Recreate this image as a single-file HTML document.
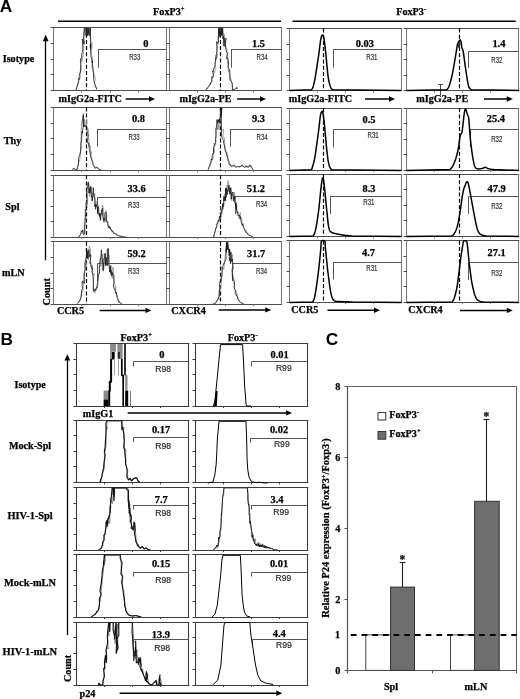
<!DOCTYPE html>
<html><head><meta charset="utf-8"><style>
html,body{margin:0;padding:0;background:#fff;}
svg{filter:grayscale(1);}
svg{display:block;}
</style></head><body>
<svg width="520" height="699" viewBox="0 0 520 699">
<rect width="520" height="699" fill="#fff"/>
<text x="-0.30" y="12.40" font-size="17.3" style="font-family:'Liberation Sans',sans-serif;font-weight:bold" text-anchor="start" fill="#000" >A</text>
<text x="0.60" y="344.90" font-size="17.3" style="font-family:'Liberation Sans',sans-serif;font-weight:bold" text-anchor="start" fill="#000" >B</text>
<text x="325.80" y="345.00" font-size="17.3" style="font-family:'Liberation Sans',sans-serif;font-weight:bold" text-anchor="start" fill="#000" >C</text>
<line x1="58.00" y1="21.20" x2="281.00" y2="21.20" stroke="#000" stroke-width="1.5" />
<line x1="292.50" y1="21.20" x2="515.80" y2="21.20" stroke="#000" stroke-width="1.5" />
<text x="153.1" y="14.8" font-size="10.2" style="font-family:'Liberation Serif',serif;font-weight:bold;stroke:#000;stroke-width:0.25px">FoxP3<tspan font-size="6.5" dy="-3.6">+</tspan></text>
<text x="396.2" y="14.8" font-size="10.2" style="font-family:'Liberation Serif',serif;font-weight:bold;stroke:#000;stroke-width:0.25px">FoxP3<tspan font-size="6.5" dy="-3.6">-</tspan></text>
<text x="2.70" y="61.80" font-size="10.2" style="font-family:'Liberation Serif',serif;font-weight:bold;stroke:#000;stroke-width:0.25px" text-anchor="start" fill="#000" >Isotype</text>
<text x="3.80" y="143.90" font-size="10.2" style="font-family:'Liberation Serif',serif;font-weight:bold;stroke:#000;stroke-width:0.25px" text-anchor="start" fill="#000" >Thy</text>
<text x="5.30" y="210.20" font-size="10.2" style="font-family:'Liberation Serif',serif;font-weight:bold;stroke:#000;stroke-width:0.25px" text-anchor="start" fill="#000" >Spl</text>
<text x="1.90" y="275.90" font-size="10.2" style="font-family:'Liberation Serif',serif;font-weight:bold;stroke:#000;stroke-width:0.25px" text-anchor="start" fill="#000" >mLN</text>
<line x1="45.50" y1="39.00" x2="45.50" y2="260.30" stroke="#000" stroke-width="1.3" />
<polygon points="45.7,34.8 42.8,41.2 48.6,41.2" fill="#000"/>
<text transform="translate(49.6,305.4) rotate(-90)" font-size="10.2" style="font-family:'Liberation Serif',serif;font-weight:bold;stroke:#000;stroke-width:0.25px">Count</text>
<line x1="50.60" y1="27.50" x2="167.00" y2="27.50" stroke="#4c4c4c" stroke-width="1.1" />
<line x1="50.60" y1="90.50" x2="167.00" y2="90.50" stroke="#4c4c4c" stroke-width="1.1" />
<line x1="53.50" y1="27.50" x2="53.50" y2="90.60" stroke="#7a7a7a" stroke-width="1.1" />
<line x1="166.50" y1="27.50" x2="166.50" y2="90.60" stroke="#7a7a7a" stroke-width="1.1" />
<line x1="50.60" y1="43.50" x2="53.60" y2="43.50" stroke="#4c4c4c" stroke-width="1" />
<line x1="81.50" y1="90.60" x2="81.50" y2="92.60" stroke="#7a7a7a" stroke-width="1" />
<line x1="50.60" y1="59.50" x2="53.60" y2="59.50" stroke="#4c4c4c" stroke-width="1" />
<line x1="110.50" y1="90.60" x2="110.50" y2="92.60" stroke="#7a7a7a" stroke-width="1" />
<line x1="50.60" y1="74.50" x2="53.60" y2="74.50" stroke="#4c4c4c" stroke-width="1" />
<line x1="138.50" y1="90.60" x2="138.50" y2="92.60" stroke="#7a7a7a" stroke-width="1" />
<line x1="166.50" y1="27.50" x2="282.10" y2="27.50" stroke="#4c4c4c" stroke-width="1.1" />
<line x1="166.50" y1="90.50" x2="282.10" y2="90.50" stroke="#4c4c4c" stroke-width="1.1" />
<line x1="169.50" y1="27.50" x2="169.50" y2="90.60" stroke="#7a7a7a" stroke-width="1.1" />
<line x1="281.50" y1="27.50" x2="281.50" y2="90.60" stroke="#7a7a7a" stroke-width="1.1" />
<line x1="166.50" y1="43.50" x2="169.50" y2="43.50" stroke="#4c4c4c" stroke-width="1" />
<line x1="197.50" y1="90.60" x2="197.50" y2="92.60" stroke="#7a7a7a" stroke-width="1" />
<line x1="166.50" y1="59.50" x2="169.50" y2="59.50" stroke="#4c4c4c" stroke-width="1" />
<line x1="225.50" y1="90.60" x2="225.50" y2="92.60" stroke="#7a7a7a" stroke-width="1" />
<line x1="166.50" y1="74.50" x2="169.50" y2="74.50" stroke="#4c4c4c" stroke-width="1" />
<line x1="253.50" y1="90.60" x2="253.50" y2="92.60" stroke="#7a7a7a" stroke-width="1" />
<line x1="286.60" y1="28.50" x2="402.10" y2="28.50" stroke="#4c4c4c" stroke-width="1.1" />
<line x1="286.60" y1="90.50" x2="402.10" y2="90.50" stroke="#4c4c4c" stroke-width="1.1" />
<line x1="289.50" y1="28.50" x2="289.50" y2="90.70" stroke="#7a7a7a" stroke-width="1.1" />
<line x1="401.50" y1="28.50" x2="401.50" y2="90.70" stroke="#7a7a7a" stroke-width="1.1" />
<line x1="286.60" y1="44.50" x2="289.60" y2="44.50" stroke="#4c4c4c" stroke-width="1" />
<line x1="317.50" y1="90.70" x2="317.50" y2="92.70" stroke="#7a7a7a" stroke-width="1" />
<line x1="286.60" y1="59.50" x2="289.60" y2="59.50" stroke="#4c4c4c" stroke-width="1" />
<line x1="345.50" y1="90.70" x2="345.50" y2="92.70" stroke="#7a7a7a" stroke-width="1" />
<line x1="286.60" y1="75.50" x2="289.60" y2="75.50" stroke="#4c4c4c" stroke-width="1" />
<line x1="373.50" y1="90.70" x2="373.50" y2="92.70" stroke="#7a7a7a" stroke-width="1" />
<line x1="403.60" y1="28.50" x2="519.30" y2="28.50" stroke="#4c4c4c" stroke-width="1.1" />
<line x1="403.60" y1="90.50" x2="519.30" y2="90.50" stroke="#4c4c4c" stroke-width="1.1" />
<line x1="406.50" y1="28.50" x2="406.50" y2="90.70" stroke="#7a7a7a" stroke-width="1.1" />
<line x1="518.50" y1="28.50" x2="518.50" y2="90.70" stroke="#7a7a7a" stroke-width="1.1" />
<line x1="403.60" y1="44.50" x2="406.60" y2="44.50" stroke="#4c4c4c" stroke-width="1" />
<line x1="434.50" y1="90.70" x2="434.50" y2="92.70" stroke="#7a7a7a" stroke-width="1" />
<line x1="403.60" y1="59.50" x2="406.60" y2="59.50" stroke="#4c4c4c" stroke-width="1" />
<line x1="462.50" y1="90.70" x2="462.50" y2="92.70" stroke="#7a7a7a" stroke-width="1" />
<line x1="403.60" y1="75.50" x2="406.60" y2="75.50" stroke="#4c4c4c" stroke-width="1" />
<line x1="490.50" y1="90.70" x2="490.50" y2="92.70" stroke="#7a7a7a" stroke-width="1" />
<line x1="50.60" y1="107.50" x2="167.00" y2="107.50" stroke="#4c4c4c" stroke-width="1.1" />
<line x1="50.60" y1="170.50" x2="167.00" y2="170.50" stroke="#4c4c4c" stroke-width="1.1" />
<line x1="53.50" y1="107.40" x2="53.50" y2="170.30" stroke="#7a7a7a" stroke-width="1.1" />
<line x1="166.50" y1="107.40" x2="166.50" y2="170.30" stroke="#7a7a7a" stroke-width="1.1" />
<line x1="50.60" y1="123.50" x2="53.60" y2="123.50" stroke="#4c4c4c" stroke-width="1" />
<line x1="81.50" y1="170.30" x2="81.50" y2="172.30" stroke="#7a7a7a" stroke-width="1" />
<line x1="50.60" y1="138.50" x2="53.60" y2="138.50" stroke="#4c4c4c" stroke-width="1" />
<line x1="110.50" y1="170.30" x2="110.50" y2="172.30" stroke="#7a7a7a" stroke-width="1" />
<line x1="50.60" y1="154.50" x2="53.60" y2="154.50" stroke="#4c4c4c" stroke-width="1" />
<line x1="138.50" y1="170.30" x2="138.50" y2="172.30" stroke="#7a7a7a" stroke-width="1" />
<line x1="166.50" y1="107.50" x2="282.10" y2="107.50" stroke="#4c4c4c" stroke-width="1.1" />
<line x1="166.50" y1="170.50" x2="282.10" y2="170.50" stroke="#4c4c4c" stroke-width="1.1" />
<line x1="169.50" y1="107.40" x2="169.50" y2="170.30" stroke="#7a7a7a" stroke-width="1.1" />
<line x1="281.50" y1="107.40" x2="281.50" y2="170.30" stroke="#7a7a7a" stroke-width="1.1" />
<line x1="166.50" y1="123.50" x2="169.50" y2="123.50" stroke="#4c4c4c" stroke-width="1" />
<line x1="197.50" y1="170.30" x2="197.50" y2="172.30" stroke="#7a7a7a" stroke-width="1" />
<line x1="166.50" y1="138.50" x2="169.50" y2="138.50" stroke="#4c4c4c" stroke-width="1" />
<line x1="225.50" y1="170.30" x2="225.50" y2="172.30" stroke="#7a7a7a" stroke-width="1" />
<line x1="166.50" y1="154.50" x2="169.50" y2="154.50" stroke="#4c4c4c" stroke-width="1" />
<line x1="253.50" y1="170.30" x2="253.50" y2="172.30" stroke="#7a7a7a" stroke-width="1" />
<line x1="286.60" y1="108.50" x2="402.10" y2="108.50" stroke="#4c4c4c" stroke-width="1.1" />
<line x1="286.60" y1="170.50" x2="402.10" y2="170.50" stroke="#4c4c4c" stroke-width="1.1" />
<line x1="289.50" y1="108.30" x2="289.50" y2="170.00" stroke="#7a7a7a" stroke-width="1.1" />
<line x1="401.50" y1="108.30" x2="401.50" y2="170.00" stroke="#7a7a7a" stroke-width="1.1" />
<line x1="286.60" y1="123.50" x2="289.60" y2="123.50" stroke="#4c4c4c" stroke-width="1" />
<line x1="317.50" y1="170.00" x2="317.50" y2="172.00" stroke="#7a7a7a" stroke-width="1" />
<line x1="286.60" y1="139.50" x2="289.60" y2="139.50" stroke="#4c4c4c" stroke-width="1" />
<line x1="345.50" y1="170.00" x2="345.50" y2="172.00" stroke="#7a7a7a" stroke-width="1" />
<line x1="286.60" y1="154.50" x2="289.60" y2="154.50" stroke="#4c4c4c" stroke-width="1" />
<line x1="373.50" y1="170.00" x2="373.50" y2="172.00" stroke="#7a7a7a" stroke-width="1" />
<line x1="403.60" y1="108.50" x2="519.30" y2="108.50" stroke="#4c4c4c" stroke-width="1.1" />
<line x1="403.60" y1="170.50" x2="519.30" y2="170.50" stroke="#4c4c4c" stroke-width="1.1" />
<line x1="406.50" y1="108.30" x2="406.50" y2="170.00" stroke="#7a7a7a" stroke-width="1.1" />
<line x1="518.50" y1="108.30" x2="518.50" y2="170.00" stroke="#7a7a7a" stroke-width="1.1" />
<line x1="403.60" y1="123.50" x2="406.60" y2="123.50" stroke="#4c4c4c" stroke-width="1" />
<line x1="434.50" y1="170.00" x2="434.50" y2="172.00" stroke="#7a7a7a" stroke-width="1" />
<line x1="403.60" y1="139.50" x2="406.60" y2="139.50" stroke="#4c4c4c" stroke-width="1" />
<line x1="462.50" y1="170.00" x2="462.50" y2="172.00" stroke="#7a7a7a" stroke-width="1" />
<line x1="403.60" y1="154.50" x2="406.60" y2="154.50" stroke="#4c4c4c" stroke-width="1" />
<line x1="490.50" y1="170.00" x2="490.50" y2="172.00" stroke="#7a7a7a" stroke-width="1" />
<line x1="50.60" y1="175.50" x2="167.00" y2="175.50" stroke="#4c4c4c" stroke-width="1.1" />
<line x1="50.60" y1="237.50" x2="167.00" y2="237.50" stroke="#4c4c4c" stroke-width="1.1" />
<line x1="53.50" y1="175.20" x2="53.50" y2="237.10" stroke="#7a7a7a" stroke-width="1.1" />
<line x1="166.50" y1="175.20" x2="166.50" y2="237.10" stroke="#7a7a7a" stroke-width="1.1" />
<line x1="50.60" y1="190.50" x2="53.60" y2="190.50" stroke="#4c4c4c" stroke-width="1" />
<line x1="81.50" y1="237.10" x2="81.50" y2="239.10" stroke="#7a7a7a" stroke-width="1" />
<line x1="50.60" y1="206.50" x2="53.60" y2="206.50" stroke="#4c4c4c" stroke-width="1" />
<line x1="110.50" y1="237.10" x2="110.50" y2="239.10" stroke="#7a7a7a" stroke-width="1" />
<line x1="50.60" y1="221.50" x2="53.60" y2="221.50" stroke="#4c4c4c" stroke-width="1" />
<line x1="138.50" y1="237.10" x2="138.50" y2="239.10" stroke="#7a7a7a" stroke-width="1" />
<line x1="166.50" y1="175.50" x2="282.10" y2="175.50" stroke="#4c4c4c" stroke-width="1.1" />
<line x1="166.50" y1="237.50" x2="282.10" y2="237.50" stroke="#4c4c4c" stroke-width="1.1" />
<line x1="169.50" y1="175.20" x2="169.50" y2="237.10" stroke="#7a7a7a" stroke-width="1.1" />
<line x1="281.50" y1="175.20" x2="281.50" y2="237.10" stroke="#7a7a7a" stroke-width="1.1" />
<line x1="166.50" y1="190.50" x2="169.50" y2="190.50" stroke="#4c4c4c" stroke-width="1" />
<line x1="197.50" y1="237.10" x2="197.50" y2="239.10" stroke="#7a7a7a" stroke-width="1" />
<line x1="166.50" y1="206.50" x2="169.50" y2="206.50" stroke="#4c4c4c" stroke-width="1" />
<line x1="225.50" y1="237.10" x2="225.50" y2="239.10" stroke="#7a7a7a" stroke-width="1" />
<line x1="166.50" y1="221.50" x2="169.50" y2="221.50" stroke="#4c4c4c" stroke-width="1" />
<line x1="253.50" y1="237.10" x2="253.50" y2="239.10" stroke="#7a7a7a" stroke-width="1" />
<line x1="286.60" y1="174.50" x2="402.10" y2="174.50" stroke="#4c4c4c" stroke-width="1.1" />
<line x1="286.60" y1="236.50" x2="402.10" y2="236.50" stroke="#4c4c4c" stroke-width="1.1" />
<line x1="289.50" y1="174.00" x2="289.50" y2="236.40" stroke="#7a7a7a" stroke-width="1.1" />
<line x1="401.50" y1="174.00" x2="401.50" y2="236.40" stroke="#7a7a7a" stroke-width="1.1" />
<line x1="286.60" y1="189.50" x2="289.60" y2="189.50" stroke="#4c4c4c" stroke-width="1" />
<line x1="317.50" y1="236.40" x2="317.50" y2="238.40" stroke="#7a7a7a" stroke-width="1" />
<line x1="286.60" y1="205.50" x2="289.60" y2="205.50" stroke="#4c4c4c" stroke-width="1" />
<line x1="345.50" y1="236.40" x2="345.50" y2="238.40" stroke="#7a7a7a" stroke-width="1" />
<line x1="286.60" y1="220.50" x2="289.60" y2="220.50" stroke="#4c4c4c" stroke-width="1" />
<line x1="373.50" y1="236.40" x2="373.50" y2="238.40" stroke="#7a7a7a" stroke-width="1" />
<line x1="403.60" y1="174.50" x2="519.30" y2="174.50" stroke="#4c4c4c" stroke-width="1.1" />
<line x1="403.60" y1="236.50" x2="519.30" y2="236.50" stroke="#4c4c4c" stroke-width="1.1" />
<line x1="406.50" y1="174.00" x2="406.50" y2="236.40" stroke="#7a7a7a" stroke-width="1.1" />
<line x1="518.50" y1="174.00" x2="518.50" y2="236.40" stroke="#7a7a7a" stroke-width="1.1" />
<line x1="403.60" y1="189.50" x2="406.60" y2="189.50" stroke="#4c4c4c" stroke-width="1" />
<line x1="434.50" y1="236.40" x2="434.50" y2="238.40" stroke="#7a7a7a" stroke-width="1" />
<line x1="403.60" y1="205.50" x2="406.60" y2="205.50" stroke="#4c4c4c" stroke-width="1" />
<line x1="462.50" y1="236.40" x2="462.50" y2="238.40" stroke="#7a7a7a" stroke-width="1" />
<line x1="403.60" y1="220.50" x2="406.60" y2="220.50" stroke="#4c4c4c" stroke-width="1" />
<line x1="490.50" y1="236.40" x2="490.50" y2="238.40" stroke="#7a7a7a" stroke-width="1" />
<line x1="50.60" y1="241.50" x2="167.00" y2="241.50" stroke="#4c4c4c" stroke-width="1.1" />
<line x1="50.60" y1="304.50" x2="167.00" y2="304.50" stroke="#4c4c4c" stroke-width="1.1" />
<line x1="53.50" y1="241.80" x2="53.50" y2="304.30" stroke="#7a7a7a" stroke-width="1.1" />
<line x1="166.50" y1="241.80" x2="166.50" y2="304.30" stroke="#7a7a7a" stroke-width="1.1" />
<line x1="50.60" y1="257.50" x2="53.60" y2="257.50" stroke="#4c4c4c" stroke-width="1" />
<line x1="81.50" y1="304.30" x2="81.50" y2="306.30" stroke="#7a7a7a" stroke-width="1" />
<line x1="50.60" y1="273.50" x2="53.60" y2="273.50" stroke="#4c4c4c" stroke-width="1" />
<line x1="110.50" y1="304.30" x2="110.50" y2="306.30" stroke="#7a7a7a" stroke-width="1" />
<line x1="50.60" y1="288.50" x2="53.60" y2="288.50" stroke="#4c4c4c" stroke-width="1" />
<line x1="138.50" y1="304.30" x2="138.50" y2="306.30" stroke="#7a7a7a" stroke-width="1" />
<line x1="166.50" y1="241.50" x2="282.10" y2="241.50" stroke="#4c4c4c" stroke-width="1.1" />
<line x1="166.50" y1="304.50" x2="282.10" y2="304.50" stroke="#4c4c4c" stroke-width="1.1" />
<line x1="169.50" y1="241.80" x2="169.50" y2="304.30" stroke="#7a7a7a" stroke-width="1.1" />
<line x1="281.50" y1="241.80" x2="281.50" y2="304.30" stroke="#7a7a7a" stroke-width="1.1" />
<line x1="166.50" y1="257.50" x2="169.50" y2="257.50" stroke="#4c4c4c" stroke-width="1" />
<line x1="197.50" y1="304.30" x2="197.50" y2="306.30" stroke="#7a7a7a" stroke-width="1" />
<line x1="166.50" y1="273.50" x2="169.50" y2="273.50" stroke="#4c4c4c" stroke-width="1" />
<line x1="225.50" y1="304.30" x2="225.50" y2="306.30" stroke="#7a7a7a" stroke-width="1" />
<line x1="166.50" y1="288.50" x2="169.50" y2="288.50" stroke="#4c4c4c" stroke-width="1" />
<line x1="253.50" y1="304.30" x2="253.50" y2="306.30" stroke="#7a7a7a" stroke-width="1" />
<line x1="286.60" y1="240.50" x2="402.10" y2="240.50" stroke="#4c4c4c" stroke-width="1.1" />
<line x1="286.60" y1="302.50" x2="402.10" y2="302.50" stroke="#4c4c4c" stroke-width="1.1" />
<line x1="289.50" y1="240.70" x2="289.50" y2="302.20" stroke="#7a7a7a" stroke-width="1.1" />
<line x1="401.50" y1="240.70" x2="401.50" y2="302.20" stroke="#7a7a7a" stroke-width="1.1" />
<line x1="286.60" y1="256.50" x2="289.60" y2="256.50" stroke="#4c4c4c" stroke-width="1" />
<line x1="317.50" y1="302.20" x2="317.50" y2="304.20" stroke="#7a7a7a" stroke-width="1" />
<line x1="286.60" y1="271.50" x2="289.60" y2="271.50" stroke="#4c4c4c" stroke-width="1" />
<line x1="345.50" y1="302.20" x2="345.50" y2="304.20" stroke="#7a7a7a" stroke-width="1" />
<line x1="286.60" y1="286.50" x2="289.60" y2="286.50" stroke="#4c4c4c" stroke-width="1" />
<line x1="373.50" y1="302.20" x2="373.50" y2="304.20" stroke="#7a7a7a" stroke-width="1" />
<line x1="403.60" y1="240.50" x2="519.30" y2="240.50" stroke="#4c4c4c" stroke-width="1.1" />
<line x1="403.60" y1="302.50" x2="519.30" y2="302.50" stroke="#4c4c4c" stroke-width="1.1" />
<line x1="406.50" y1="240.70" x2="406.50" y2="302.20" stroke="#7a7a7a" stroke-width="1.1" />
<line x1="518.50" y1="240.70" x2="518.50" y2="302.20" stroke="#7a7a7a" stroke-width="1.1" />
<line x1="403.60" y1="256.50" x2="406.60" y2="256.50" stroke="#4c4c4c" stroke-width="1" />
<line x1="434.50" y1="302.20" x2="434.50" y2="304.20" stroke="#7a7a7a" stroke-width="1" />
<line x1="403.60" y1="271.50" x2="406.60" y2="271.50" stroke="#4c4c4c" stroke-width="1" />
<line x1="462.50" y1="302.20" x2="462.50" y2="304.20" stroke="#7a7a7a" stroke-width="1" />
<line x1="403.60" y1="286.50" x2="406.60" y2="286.50" stroke="#4c4c4c" stroke-width="1" />
<line x1="490.50" y1="302.20" x2="490.50" y2="304.20" stroke="#7a7a7a" stroke-width="1" />
<text x="58.50" y="102.00" font-size="10.2" style="font-family:'Liberation Serif',serif;font-weight:bold;stroke:#000;stroke-width:0.25px" text-anchor="start" fill="#000" >mIgG2a-FITC</text>
<line x1="125.60" y1="99.00" x2="149.50" y2="99.00" stroke="#000" stroke-width="1.5" />
<polygon points="155.00,99.00 149.00,96.30 149.00,101.70" fill="#000"/>
<text x="179.40" y="102.00" font-size="10.2" style="font-family:'Liberation Serif',serif;font-weight:bold;stroke:#000;stroke-width:0.25px" text-anchor="start" fill="#000" >mIgG2a-PE</text>
<line x1="237.10" y1="99.00" x2="260.50" y2="99.00" stroke="#000" stroke-width="1.5" />
<polygon points="266.00,99.00 260.00,96.30 260.00,101.70" fill="#000"/>
<text x="288.80" y="102.30" font-size="10.2" style="font-family:'Liberation Serif',serif;font-weight:bold;stroke:#000;stroke-width:0.25px" text-anchor="start" fill="#000" >mIgG2a-FITC</text>
<line x1="365.00" y1="99.00" x2="389.50" y2="99.00" stroke="#000" stroke-width="1.5" />
<polygon points="395.00,99.00 389.00,96.30 389.00,101.70" fill="#000"/>
<text x="416.20" y="102.30" font-size="10.2" style="font-family:'Liberation Serif',serif;font-weight:bold;stroke:#000;stroke-width:0.25px" text-anchor="start" fill="#000" >mIgG2a-PE</text>
<line x1="484.00" y1="99.00" x2="507.30" y2="99.00" stroke="#000" stroke-width="1.5" />
<polygon points="512.80,99.00 506.80,96.30 506.80,101.70" fill="#000"/>
<text x="56.90" y="314.00" font-size="10.2" style="font-family:'Liberation Serif',serif;font-weight:bold;stroke:#000;stroke-width:0.25px" text-anchor="start" fill="#000" >CCR5</text>
<line x1="99.60" y1="310.40" x2="146.00" y2="310.40" stroke="#000" stroke-width="1.5" />
<polygon points="151.50,310.40 145.50,307.70 145.50,313.10" fill="#000"/>
<text x="171.25" y="313.50" font-size="10.2" style="font-family:'Liberation Serif',serif;font-weight:bold;stroke:#000;stroke-width:0.25px" text-anchor="start" fill="#000" >CXCR4</text>
<line x1="218.75" y1="309.90" x2="265.75" y2="309.90" stroke="#000" stroke-width="1.5" />
<polygon points="271.25,309.90 265.25,307.20 265.25,312.60" fill="#000"/>
<text x="291.25" y="313.20" font-size="10.2" style="font-family:'Liberation Serif',serif;font-weight:bold;stroke:#000;stroke-width:0.25px" text-anchor="start" fill="#000" >CCR5</text>
<line x1="327.50" y1="310.30" x2="374.50" y2="310.30" stroke="#000" stroke-width="1.5" />
<polygon points="380.00,310.30 374.00,307.60 374.00,313.00" fill="#000"/>
<text x="408.20" y="313.30" font-size="10.2" style="font-family:'Liberation Serif',serif;font-weight:bold;stroke:#000;stroke-width:0.25px" text-anchor="start" fill="#000" >CXCR4</text>
<line x1="460.00" y1="310.40" x2="507.30" y2="310.40" stroke="#000" stroke-width="1.5" />
<polygon points="512.80,310.40 506.80,307.70 506.80,313.10" fill="#000"/>
<line x1="98.10" y1="49.50" x2="166.50" y2="49.50" stroke="#555" stroke-width="1" />
<line x1="98.50" y1="49.00" x2="98.50" y2="67.70" stroke="#555" stroke-width="1" />
<line x1="231.70" y1="49.50" x2="281.60" y2="49.50" stroke="#555" stroke-width="1" />
<line x1="231.50" y1="49.00" x2="231.50" y2="67.70" stroke="#555" stroke-width="1" />
<line x1="333.50" y1="49.50" x2="401.60" y2="49.50" stroke="#555" stroke-width="1" />
<line x1="333.50" y1="49.20" x2="333.50" y2="67.70" stroke="#555" stroke-width="1" />
<line x1="468.90" y1="51.50" x2="518.80" y2="51.50" stroke="#555" stroke-width="1" />
<line x1="468.50" y1="51.20" x2="468.50" y2="67.70" stroke="#555" stroke-width="1" />
<line x1="97.80" y1="129.50" x2="166.50" y2="129.50" stroke="#555" stroke-width="1" />
<line x1="97.50" y1="129.00" x2="97.50" y2="146.70" stroke="#555" stroke-width="1" />
<line x1="230.50" y1="129.50" x2="281.60" y2="129.50" stroke="#555" stroke-width="1" />
<line x1="230.50" y1="129.00" x2="230.50" y2="146.70" stroke="#555" stroke-width="1" />
<line x1="333.50" y1="129.50" x2="401.60" y2="129.50" stroke="#555" stroke-width="1" />
<line x1="333.50" y1="129.40" x2="333.50" y2="147.40" stroke="#555" stroke-width="1" />
<line x1="470.40" y1="129.50" x2="518.80" y2="129.50" stroke="#555" stroke-width="1" />
<line x1="470.50" y1="129.80" x2="470.50" y2="146.70" stroke="#555" stroke-width="1" />
<line x1="97.40" y1="197.50" x2="166.50" y2="197.50" stroke="#555" stroke-width="1" />
<line x1="97.50" y1="197.00" x2="97.50" y2="214.00" stroke="#555" stroke-width="1" />
<line x1="235.00" y1="196.50" x2="281.60" y2="196.50" stroke="#555" stroke-width="1" />
<line x1="235.50" y1="196.30" x2="235.50" y2="214.00" stroke="#555" stroke-width="1" />
<line x1="330.50" y1="196.50" x2="401.60" y2="196.50" stroke="#555" stroke-width="1" />
<line x1="330.50" y1="196.20" x2="330.50" y2="214.00" stroke="#555" stroke-width="1" />
<line x1="468.50" y1="196.50" x2="518.80" y2="196.50" stroke="#555" stroke-width="1" />
<line x1="468.50" y1="196.20" x2="468.50" y2="214.00" stroke="#555" stroke-width="1" />
<line x1="97.40" y1="263.50" x2="166.50" y2="263.50" stroke="#555" stroke-width="1" />
<line x1="97.50" y1="263.50" x2="97.50" y2="281.00" stroke="#555" stroke-width="1" />
<line x1="232.80" y1="263.50" x2="281.60" y2="263.50" stroke="#555" stroke-width="1" />
<line x1="232.50" y1="263.00" x2="232.50" y2="281.00" stroke="#555" stroke-width="1" />
<line x1="333.50" y1="262.50" x2="401.60" y2="262.50" stroke="#555" stroke-width="1" />
<line x1="333.50" y1="262.20" x2="333.50" y2="279.50" stroke="#555" stroke-width="1" />
<line x1="468.50" y1="262.50" x2="518.80" y2="262.50" stroke="#555" stroke-width="1" />
<line x1="468.50" y1="262.90" x2="468.50" y2="280.00" stroke="#555" stroke-width="1" />
<text x="148.50" y="47.00" font-size="10.4" style="font-family:'Liberation Serif',serif;font-weight:bold;stroke:#000;stroke-width:0.25px" text-anchor="end" fill="#000" >0</text>
<text x="265.00" y="47.00" font-size="10.4" style="font-family:'Liberation Serif',serif;font-weight:bold;stroke:#000;stroke-width:0.25px" text-anchor="end" fill="#000" >1.5</text>
<text x="373.90" y="47.00" font-size="10.4" style="font-family:'Liberation Serif',serif;font-weight:bold;stroke:#000;stroke-width:0.25px" text-anchor="end" fill="#000" >0.03</text>
<text x="505.40" y="46.60" font-size="10.4" style="font-family:'Liberation Serif',serif;font-weight:bold;stroke:#000;stroke-width:0.25px" text-anchor="end" fill="#000" >1.4</text>
<text x="145.00" y="122.40" font-size="10.4" style="font-family:'Liberation Serif',serif;font-weight:bold;stroke:#000;stroke-width:0.25px" text-anchor="end" fill="#000" >0.8</text>
<text x="265.00" y="122.40" font-size="10.4" style="font-family:'Liberation Serif',serif;font-weight:bold;stroke:#000;stroke-width:0.25px" text-anchor="end" fill="#000" >9.3</text>
<text x="375.50" y="122.50" font-size="10.4" style="font-family:'Liberation Serif',serif;font-weight:bold;stroke:#000;stroke-width:0.25px" text-anchor="end" fill="#000" >0.5</text>
<text x="505.00" y="122.00" font-size="10.4" style="font-family:'Liberation Serif',serif;font-weight:bold;stroke:#000;stroke-width:0.25px" text-anchor="end" fill="#000" >25.4</text>
<text x="145.70" y="192.00" font-size="10.4" style="font-family:'Liberation Serif',serif;font-weight:bold;stroke:#000;stroke-width:0.25px" text-anchor="end" fill="#000" >33.6</text>
<text x="265.00" y="192.00" font-size="10.4" style="font-family:'Liberation Serif',serif;font-weight:bold;stroke:#000;stroke-width:0.25px" text-anchor="end" fill="#000" >51.2</text>
<text x="375.50" y="191.60" font-size="10.4" style="font-family:'Liberation Serif',serif;font-weight:bold;stroke:#000;stroke-width:0.25px" text-anchor="end" fill="#000" >8.3</text>
<text x="505.70" y="191.60" font-size="10.4" style="font-family:'Liberation Serif',serif;font-weight:bold;stroke:#000;stroke-width:0.25px" text-anchor="end" fill="#000" >47.9</text>
<text x="145.70" y="256.60" font-size="10.4" style="font-family:'Liberation Serif',serif;font-weight:bold;stroke:#000;stroke-width:0.25px" text-anchor="end" fill="#000" >59.2</text>
<text x="265.30" y="256.60" font-size="10.4" style="font-family:'Liberation Serif',serif;font-weight:bold;stroke:#000;stroke-width:0.25px" text-anchor="end" fill="#000" >31.7</text>
<text x="375.00" y="256.00" font-size="10.4" style="font-family:'Liberation Serif',serif;font-weight:bold;stroke:#000;stroke-width:0.25px" text-anchor="end" fill="#000" >4.7</text>
<text x="505.70" y="256.00" font-size="10.4" style="font-family:'Liberation Serif',serif;font-weight:bold;stroke:#000;stroke-width:0.25px" text-anchor="end" fill="#000" >27.1</text>
<text x="129.20" y="59.90" font-size="8.6" style="font-family:'Liberation Sans',sans-serif;stroke:#444;stroke-width:0.2px" text-anchor="start" fill="#2a2a2a"  textLength="11.20" lengthAdjust="spacingAndGlyphs">R33</text>
<text x="256.50" y="59.90" font-size="8.6" style="font-family:'Liberation Sans',sans-serif;stroke:#444;stroke-width:0.2px" text-anchor="start" fill="#2a2a2a"  textLength="11.20" lengthAdjust="spacingAndGlyphs">R34</text>
<text x="366.30" y="59.90" font-size="8.6" style="font-family:'Liberation Sans',sans-serif;stroke:#444;stroke-width:0.2px" text-anchor="start" fill="#2a2a2a"  textLength="11.20" lengthAdjust="spacingAndGlyphs">R31</text>
<text x="491.30" y="62.70" font-size="8.6" style="font-family:'Liberation Sans',sans-serif;stroke:#444;stroke-width:0.2px" text-anchor="start" fill="#2a2a2a"  textLength="11.20" lengthAdjust="spacingAndGlyphs">R32</text>
<text x="128.50" y="140.10" font-size="8.6" style="font-family:'Liberation Sans',sans-serif;stroke:#444;stroke-width:0.2px" text-anchor="start" fill="#2a2a2a"  textLength="11.20" lengthAdjust="spacingAndGlyphs">R33</text>
<text x="256.50" y="140.10" font-size="8.6" style="font-family:'Liberation Sans',sans-serif;stroke:#444;stroke-width:0.2px" text-anchor="start" fill="#2a2a2a"  textLength="11.20" lengthAdjust="spacingAndGlyphs">R34</text>
<text x="367.50" y="138.40" font-size="8.6" style="font-family:'Liberation Sans',sans-serif;stroke:#444;stroke-width:0.2px" text-anchor="start" fill="#2a2a2a"  textLength="11.20" lengthAdjust="spacingAndGlyphs">R31</text>
<text x="491.20" y="141.90" font-size="8.6" style="font-family:'Liberation Sans',sans-serif;stroke:#444;stroke-width:0.2px" text-anchor="start" fill="#2a2a2a"  textLength="11.20" lengthAdjust="spacingAndGlyphs">R32</text>
<text x="128.10" y="208.10" font-size="8.6" style="font-family:'Liberation Sans',sans-serif;stroke:#444;stroke-width:0.2px" text-anchor="start" fill="#2a2a2a"  textLength="11.20" lengthAdjust="spacingAndGlyphs">R33</text>
<text x="256.00" y="206.50" font-size="8.6" style="font-family:'Liberation Sans',sans-serif;stroke:#444;stroke-width:0.2px" text-anchor="start" fill="#2a2a2a"  textLength="11.20" lengthAdjust="spacingAndGlyphs">R34</text>
<text x="363.30" y="205.20" font-size="8.6" style="font-family:'Liberation Sans',sans-serif;stroke:#444;stroke-width:0.2px" text-anchor="start" fill="#2a2a2a"  textLength="11.20" lengthAdjust="spacingAndGlyphs">R31</text>
<text x="491.20" y="208.70" font-size="8.6" style="font-family:'Liberation Sans',sans-serif;stroke:#444;stroke-width:0.2px" text-anchor="start" fill="#2a2a2a"  textLength="11.20" lengthAdjust="spacingAndGlyphs">R32</text>
<text x="128.10" y="274.10" font-size="8.6" style="font-family:'Liberation Sans',sans-serif;stroke:#444;stroke-width:0.2px" text-anchor="start" fill="#2a2a2a"  textLength="11.20" lengthAdjust="spacingAndGlyphs">R33</text>
<text x="256.00" y="274.10" font-size="8.6" style="font-family:'Liberation Sans',sans-serif;stroke:#444;stroke-width:0.2px" text-anchor="start" fill="#2a2a2a"  textLength="11.20" lengthAdjust="spacingAndGlyphs">R34</text>
<text x="366.30" y="271.20" font-size="8.6" style="font-family:'Liberation Sans',sans-serif;stroke:#444;stroke-width:0.2px" text-anchor="start" fill="#2a2a2a"  textLength="11.20" lengthAdjust="spacingAndGlyphs">R31</text>
<text x="491.20" y="275.90" font-size="8.6" style="font-family:'Liberation Sans',sans-serif;stroke:#444;stroke-width:0.2px" text-anchor="start" fill="#2a2a2a"  textLength="11.20" lengthAdjust="spacingAndGlyphs">R32</text>
<line x1="86.50" y1="27.50" x2="86.50" y2="90.60" stroke="#000" stroke-width="1.2" stroke-dasharray="4,2.2"/>
<line x1="220.50" y1="27.50" x2="220.50" y2="90.60" stroke="#000" stroke-width="1.2" stroke-dasharray="4,2.2"/>
<line x1="323.50" y1="28.50" x2="323.50" y2="90.70" stroke="#000" stroke-width="1.2" stroke-dasharray="4,2.2"/>
<line x1="459.50" y1="28.50" x2="459.50" y2="90.70" stroke="#000" stroke-width="1.2" stroke-dasharray="4,2.2"/>
<line x1="86.50" y1="107.40" x2="86.50" y2="170.30" stroke="#000" stroke-width="1.2" stroke-dasharray="4,2.2"/>
<line x1="220.50" y1="107.40" x2="220.50" y2="170.30" stroke="#000" stroke-width="1.2" stroke-dasharray="4,2.2"/>
<line x1="323.50" y1="108.30" x2="323.50" y2="170.00" stroke="#000" stroke-width="1.2" stroke-dasharray="4,2.2"/>
<line x1="459.50" y1="108.30" x2="459.50" y2="170.00" stroke="#000" stroke-width="1.2" stroke-dasharray="4,2.2"/>
<line x1="86.50" y1="175.20" x2="86.50" y2="237.10" stroke="#000" stroke-width="1.2" stroke-dasharray="4,2.2"/>
<line x1="220.50" y1="175.20" x2="220.50" y2="237.10" stroke="#000" stroke-width="1.2" stroke-dasharray="4,2.2"/>
<line x1="323.50" y1="174.00" x2="323.50" y2="236.40" stroke="#000" stroke-width="1.2" stroke-dasharray="4,2.2"/>
<line x1="459.50" y1="174.00" x2="459.50" y2="236.40" stroke="#000" stroke-width="1.2" stroke-dasharray="4,2.2"/>
<line x1="86.50" y1="241.80" x2="86.50" y2="304.30" stroke="#000" stroke-width="1.2" stroke-dasharray="4,2.2"/>
<line x1="220.50" y1="241.80" x2="220.50" y2="304.30" stroke="#000" stroke-width="1.2" stroke-dasharray="4,2.2"/>
<line x1="323.50" y1="240.70" x2="323.50" y2="302.20" stroke="#000" stroke-width="1.2" stroke-dasharray="4,2.2"/>
<line x1="459.50" y1="240.70" x2="459.50" y2="302.20" stroke="#000" stroke-width="1.2" stroke-dasharray="4,2.2"/>
<line x1="440.50" y1="84.50" x2="440.50" y2="95.20" stroke="#444" stroke-width="1" />
<line x1="438.30" y1="84.50" x2="443.00" y2="84.50" stroke="#444" stroke-width="1" />
<polyline points="76.07,90.50 76.57,89.11 76.59,87.92 77.71,85.16 77.61,83.72 78.27,84.29 78.73,82.35 78.89,80.01 79.98,78.41 80.43,76.15 79.77,74.09 81.16,69.60 80.61,58.15 81.85,61.79 83.03,56.09 83.56,51.49 83.69,43.04 84.43,41.14 83.43,43.60 84.09,28.10 85.03,35.50 85.50,34.71 85.95,31.77 86.40,28.10 86.85,33.67 87.30,35.50 87.75,35.50 88.20,35.50 88.65,35.50 89.10,35.50 89.55,35.50 90.00,35.50 89.66,28.10 91.78,48.57 91.89,42.71 91.17,54.69 92.73,57.86 91.92,68.25 92.50,67.96 93.30,71.42 94.92,76.34 95.40,79.54 94.32,82.55 95.00,84.96 95.77,85.76 96.01,87.99 97.00,89.25" fill="none" stroke="#8a8a8a" stroke-width="0.8" stroke-linejoin="round" />
<polyline points="75.86,90.50 76.06,89.33 76.62,87.70 77.14,86.19 77.61,84.36 77.96,83.65 78.59,80.65 78.67,78.25 79.32,79.45 79.09,76.00 80.34,72.06 80.86,63.10 80.31,61.41 81.49,57.47 81.73,54.20 82.88,49.82 82.26,38.87 84.12,44.20 83.72,34.25 83.93,33.15 84.63,28.10 85.15,28.18 85.60,28.10 86.05,35.50 86.50,31.96 86.95,28.10 87.40,35.50 87.85,28.10 88.30,34.39 88.75,28.10 89.20,35.50 89.65,35.50 90.37,28.10 90.46,48.57 90.32,44.26 90.89,55.76 92.51,62.92 91.97,61.05 93.00,68.78 92.97,71.23 93.33,71.40 93.74,80.37 94.48,82.66 94.97,84.47 95.21,86.79 96.32,87.41 96.73,89.56" fill="none" stroke="#111" stroke-width="0.75" stroke-linejoin="round" />
<polyline points="206.00,89.79 206.41,89.27 206.92,88.57 207.48,88.58 207.77,88.02 208.24,87.30 208.61,86.30 209.38,85.50 209.79,85.81 209.96,85.01 210.61,82.94 211.16,83.33 211.22,83.08 212.04,80.99 212.02,78.70 212.38,76.62 213.65,77.61 213.42,73.16 214.27,73.09 215.12,70.18 214.94,64.10 215.41,62.86 215.69,55.05 215.73,61.02 217.05,48.34 217.36,47.21 217.47,47.05 217.65,47.79 218.11,35.99 218.79,38.10 219.78,29.16 220.02,28.10 220.45,35.50 220.90,28.10 221.35,35.50 221.80,28.10 222.25,28.10 222.86,28.10 223.90,38.74 224.28,42.38 223.83,33.74 224.64,46.45 224.98,40.51 225.56,43.85 225.29,39.81 225.65,47.95 227.36,49.40 226.46,51.24 227.09,51.62 227.85,63.65 227.82,61.48 228.86,71.97 228.66,69.62 229.30,73.78 229.93,79.42 230.79,78.74 231.54,80.93 231.71,81.51 232.04,84.27 232.57,87.50 232.97,89.79 233.50,89.78 233.96,89.79 234.40,89.80 234.80,89.30 235.24,88.95 235.82,88.54 236.11,88.08 236.66,88.33 237.07,88.10 237.64,89.13" fill="none" stroke="#8a8a8a" stroke-width="0.8" stroke-linejoin="round" />
<polyline points="205.73,89.83 206.04,89.29 206.70,88.66 207.17,88.47 207.54,87.62 207.99,87.48 208.41,87.02 208.93,86.11 209.49,84.70 209.56,85.04 210.41,84.34 210.45,82.89 210.89,82.69 211.69,81.84 211.66,76.89 212.52,77.13 213.36,75.82 212.66,70.99 212.97,72.05 213.67,68.89 215.06,66.17 215.21,64.67 215.20,62.61 215.80,57.97 216.93,57.82 216.99,49.81 216.56,41.61 217.83,43.72 218.49,42.26 218.56,28.25 219.22,36.62 219.75,28.10 220.10,35.50 220.55,31.44 221.00,35.50 221.45,28.10 221.90,35.50 222.45,28.10 222.82,38.74 223.78,36.06 223.25,43.82 223.99,46.45 224.63,38.50 225.20,39.42 226.17,38.12 225.32,43.99 226.19,50.62 227.46,53.69 226.46,58.63 227.83,57.83 228.59,63.24 227.89,66.96 229.73,70.05 230.03,75.47 230.15,80.17 230.54,80.94 231.14,81.17 231.54,82.47 232.23,83.03 232.42,87.11 232.39,89.81 233.15,89.83 233.59,89.82 234.01,89.74 234.44,89.46 234.93,89.16 235.37,88.70 235.77,88.37 236.38,87.87 236.79,87.32 237.09,88.88" fill="none" stroke="#111" stroke-width="0.75" stroke-linejoin="round" />
<polyline points="72.37,169.80 72.89,169.47 73.34,169.12 73.69,168.44 74.15,168.57 74.50,168.75 74.97,169.29 75.51,169.78 75.94,169.70 76.41,169.64 76.84,169.61 77.06,169.56 77.27,167.28 78.73,163.38 78.25,160.85 79.61,161.36 80.24,155.56 80.32,154.03 81.24,147.54 81.74,147.68 80.99,143.39 81.20,131.47 81.47,123.10 82.89,118.06 83.23,113.30 83.48,117.47 84.04,126.95 84.50,119.51 84.89,126.70 85.27,127.15 86.08,128.50 86.64,118.85 86.88,125.77 86.38,125.80 88.47,130.18 88.55,134.20 89.28,146.47 88.78,142.67 89.81,147.31 90.19,145.81 90.88,153.58 91.59,151.73 91.03,156.01 92.05,160.21 92.44,160.42 92.47,162.41 92.85,163.06 93.31,163.75 94.17,165.84 94.20,165.85 94.87,167.71 95.25,167.95 95.77,168.00 96.19,167.68 96.70,167.08 97.10,166.81 97.49,167.75 98.13,168.12 98.53,168.54 98.88,168.86 99.40,169.48 99.80,169.56 100.26,169.68 100.70,169.73 101.16,169.77" fill="none" stroke="#8a8a8a" stroke-width="0.8" stroke-linejoin="round" />
<polyline points="71.98,169.80 72.38,169.40 73.00,169.00 73.38,168.81 73.80,168.26 74.19,168.35 74.82,169.33 75.18,169.78 75.61,169.72 76.06,169.66 76.51,169.58 76.94,169.50 77.65,167.34 78.48,164.05 78.41,162.08 78.81,157.41 79.45,155.45 80.22,153.32 80.64,150.60 80.81,144.21 81.59,140.10 82.07,131.24 82.24,133.13 83.17,126.70 82.81,119.27 83.47,114.75 83.69,126.95 84.18,125.22 84.56,125.40 85.07,125.94 85.45,125.41 86.27,126.03 86.77,129.26 86.24,125.80 87.57,133.61 88.07,134.84 87.45,142.11 88.24,143.68 88.62,143.46 89.18,147.64 89.32,149.17 90.24,154.24 91.02,158.25 91.69,158.74 91.74,159.46 92.19,161.62 92.91,162.66 92.90,164.37 93.42,165.59 93.98,166.34 94.71,167.21 94.93,168.18 95.41,168.09 95.81,167.60 96.31,167.54 96.76,167.63 97.18,167.46 97.51,168.15 98.12,168.28 98.45,169.01 99.06,169.53 99.45,169.57 99.89,169.63 100.35,169.72 100.81,169.78" fill="none" stroke="#111" stroke-width="0.75" stroke-linejoin="round" />
<polyline points="208.44,169.80 208.68,168.78 209.34,167.36 209.84,166.73 210.32,165.55 210.82,163.97 210.98,163.61 211.65,161.57 211.99,158.66 212.21,159.86 213.04,158.53 213.11,156.83 214.11,149.46 214.12,152.66 214.10,143.12 214.72,144.83 215.71,145.36 216.28,129.10 217.23,122.50 216.90,130.00 217.35,127.80 217.90,130.00 218.19,119.80 218.61,128.53 218.91,129.11 219.65,129.69 220.34,112.74 219.95,109.29 220.73,111.44 221.54,108.00 220.97,115.80 221.43,131.28 223.48,128.99 222.85,137.56 223.46,137.66 224.77,137.87 224.48,139.63 224.92,148.11 225.21,151.64 226.34,153.30 226.79,152.60 227.17,153.03 227.27,157.26 227.93,157.45 227.74,159.32 228.42,162.21 229.23,162.56 229.25,162.89 229.99,163.74 230.34,165.08 230.90,165.46 231.29,165.34 231.76,166.57 232.20,165.83 232.63,166.07 233.08,165.70 233.53,166.21 234.03,165.76 234.44,166.18 234.86,166.00 235.35,166.10 235.90,167.05 236.21,166.85 236.67,166.96 237.18,166.22 237.62,166.08 238.08,166.19 238.49,166.83 239.00,166.11 239.39,166.88 239.89,167.28 240.30,167.15 240.72,166.31 241.23,165.88 241.57,166.14 242.05,165.77 242.56,164.79 243.09,165.86 243.50,166.53 243.97,166.29 244.36,166.73 244.84,167.46 245.24,167.26 245.73,166.81 246.17,165.82 246.60,166.95 247.04,166.95 247.52,166.50 247.97,166.48 248.38,167.67 248.76,167.28 249.25,166.82 249.73,166.64 250.19,166.22 250.72,165.03 251.11,166.56 251.44,166.45 251.84,167.51 252.55,168.60 252.98,169.18 253.26,169.80" fill="none" stroke="#8a8a8a" stroke-width="0.8" stroke-linejoin="round" />
<polyline points="207.90,169.80 208.43,168.79 208.67,167.74 209.36,166.31 209.82,165.09 210.09,163.79 210.76,162.08 210.93,161.01 211.65,158.89 211.98,159.73 212.32,155.30 213.04,153.15 213.48,153.73 213.59,147.89 214.19,145.75 215.65,142.04 215.49,139.70 215.91,135.55 215.87,128.77 216.55,126.78 217.00,119.57 217.36,122.74 218.00,119.80 218.44,120.70 218.72,121.60 219.33,118.69 219.21,123.09 220.91,113.96 220.58,108.00 221.19,115.07 221.79,108.00 221.25,120.30 221.59,136.95 223.30,139.89 223.69,140.46 223.46,143.07 223.92,143.50 224.86,148.03 224.83,148.81 225.27,149.46 226.28,152.72 226.68,155.73 227.21,156.11 227.46,155.81 227.67,158.03 228.60,160.16 228.97,161.39 229.12,164.50 229.41,165.04 229.92,164.75 230.44,164.89 230.90,166.12 231.37,166.02 231.85,165.69 232.33,165.67 232.76,165.69 233.21,165.70 233.64,165.38 234.13,164.82 234.54,165.37 235.02,166.54 235.52,167.07 235.87,167.06 236.35,167.06 236.80,167.11 237.29,166.75 237.72,166.30 238.14,166.71 238.64,166.92 239.03,167.04 239.46,166.68 239.96,167.01 240.31,166.63 240.76,166.12 241.36,166.06 241.70,166.06 242.17,165.26 242.73,166.37 243.20,166.31 243.61,166.73 243.99,167.13 244.48,167.37 244.94,166.80 245.38,166.65 245.78,165.80 246.26,165.88 246.66,166.75 247.11,166.74 247.62,167.12 248.09,166.74 248.42,166.83 248.87,166.07 249.49,166.10 249.84,164.93 250.38,165.84 250.74,166.57 251.24,166.60 251.76,167.56 252.19,168.30 252.60,169.14 252.95,169.80" fill="none" stroke="#111" stroke-width="0.75" stroke-linejoin="round" />
<polyline points="78.60,237.00 78.99,236.55 79.51,236.03 80.00,235.23 80.42,234.50 80.69,233.37 81.52,232.82 81.65,231.17 82.49,231.32 82.69,230.24 82.80,232.57 83.40,233.77 83.97,234.59 85.07,234.17 85.10,226.40 85.17,217.19 85.06,212.27 85.77,202.50 86.62,205.19 87.35,194.48 87.29,191.06 88.30,193.20 88.56,183.10 89.22,189.91 89.31,194.99 89.66,196.65 90.41,191.56 90.80,186.55 91.30,186.10 91.77,198.55 92.04,201.00 92.62,199.44 92.97,196.25 93.72,192.80 94.25,196.37 94.71,193.20 95.29,202.79 95.08,206.91 95.94,202.72 96.16,201.25 96.22,204.53 97.30,205.75 97.54,207.41 98.09,209.34 98.43,205.57 99.25,212.47 99.68,216.76 99.72,213.30 100.42,215.81 100.68,220.87 101.02,213.86 101.59,212.84 101.69,214.05 102.42,204.90 103.07,206.44 103.74,222.69 103.90,220.29 104.18,222.20 105.02,222.22 105.49,220.26 105.57,214.63 106.11,210.57 105.96,211.56 106.39,217.60 106.81,222.44 107.60,222.52 108.27,225.00 108.90,225.17 109.17,228.02 109.67,227.04 110.05,227.91 110.75,230.13 111.04,229.47 111.37,229.01 111.87,230.42 112.31,232.22 112.95,230.82 113.22,232.34 113.64,232.78 114.29,233.17 114.68,233.97 115.09,233.27 115.58,233.37 116.03,234.08 116.41,234.07 116.98,234.91 117.40,235.23 117.84,235.47 118.25,235.36 118.67,235.60 119.14,235.53 119.61,235.78 120.05,236.21 120.53,236.29 120.94,236.38 121.38,236.23 121.83,236.34 122.32,236.56 122.75,236.67 123.21,236.69 123.66,236.66 124.11,236.84 124.55,236.87 125.01,236.89 125.46,236.96 125.90,237.05" fill="none" stroke="#8a8a8a" stroke-width="0.8" stroke-linejoin="round" />
<polyline points="78.36,237.00 78.67,236.54 79.11,235.87 79.74,235.70 80.24,234.64 80.63,234.37 81.03,232.69 81.19,231.28 81.98,231.82 82.41,229.96 83.09,231.23 82.98,233.53 83.66,234.71 84.31,234.12 84.45,226.78 85.79,213.13 85.42,210.17 86.68,207.87 87.15,201.17 86.91,196.94 86.43,191.56 87.43,186.86 88.26,181.92 88.63,183.63 89.14,193.15 89.56,188.54 90.06,193.14 90.46,186.55 90.83,187.88 91.36,196.85 91.95,196.02 92.24,200.87 92.71,195.69 93.25,187.61 93.66,195.54 94.72,197.98 94.84,202.29 94.71,206.61 95.89,204.38 95.44,209.24 96.23,204.56 96.56,206.53 97.20,207.45 97.75,212.54 98.18,206.86 98.23,212.84 99.42,216.14 99.86,213.00 99.89,216.02 100.37,219.87 100.77,214.07 101.11,215.03 101.42,210.44 101.69,211.31 102.49,208.06 102.75,216.30 103.51,220.58 104.08,218.51 104.86,220.61 104.62,214.29 105.51,212.07 105.73,212.29 106.76,214.62 106.22,221.21 107.70,221.59 107.72,225.12 107.75,225.19 108.43,227.58 109.00,226.10 109.42,228.23 109.89,227.10 110.36,227.68 110.65,229.34 111.29,230.21 111.48,230.27 111.98,231.40 112.42,231.12 112.88,231.51 113.36,232.37 113.81,233.39 114.26,233.35 114.70,233.39 115.15,233.51 115.66,234.22 116.10,233.94 116.48,234.90 116.99,235.09 117.51,235.19 117.90,235.46 118.39,235.75 118.82,235.70 119.26,235.96 119.69,235.95 120.13,235.95 120.61,236.08 121.03,236.24 121.52,236.32 121.96,236.59 122.39,236.55 122.85,236.62 123.30,236.67 123.77,236.76 124.20,236.88 124.67,236.89 125.10,236.96 125.55,237.03" fill="none" stroke="#111" stroke-width="0.75" stroke-linejoin="round" />
<polyline points="214.09,237.00 214.50,234.73 214.48,232.39 214.94,232.34 215.62,230.14 216.10,228.42 216.75,226.24 216.84,224.52 217.31,222.86 218.15,223.60 218.08,222.27 219.18,219.94 219.34,216.94 219.83,217.61 220.32,215.74 220.76,215.24 221.14,217.15 221.01,207.18 221.94,214.17 222.82,203.07 223.03,206.48 223.13,209.22 224.05,200.44 224.42,195.55 224.82,193.80 225.50,201.04 225.55,201.20 225.69,188.99 226.46,193.27 227.20,185.16 227.50,190.07 227.61,182.85 228.21,180.64 228.67,182.75 229.33,186.06 229.43,194.24 229.86,188.51 230.83,194.76 231.16,187.69 231.02,191.09 231.73,200.60 232.27,192.14 232.74,193.34 233.20,196.85 233.65,199.18 233.98,192.00 234.57,193.00 235.35,198.66 235.68,202.94 235.42,210.75 236.05,202.00 236.84,206.76 237.17,212.01 237.42,215.43 237.99,214.89 238.34,216.20 239.20,217.97 239.55,219.06 240.22,212.60 240.11,216.10 240.85,218.90 241.03,219.34 241.81,218.49 241.92,222.20 242.81,223.48 243.08,226.15 243.46,225.87 243.81,226.53 244.24,228.59 244.99,230.31 245.14,230.76 245.77,230.97 246.42,231.31 246.70,233.12 247.08,233.41 247.61,233.10 248.08,234.23 248.53,233.79 249.00,235.14 249.48,235.48 249.83,235.18 250.35,235.60 250.80,235.72 251.20,236.14 251.70,236.25 252.08,236.48 252.52,236.68 253.04,236.83" fill="none" stroke="#8a8a8a" stroke-width="0.8" stroke-linejoin="round" />
<polyline points="213.40,237.00 214.06,234.87 214.59,233.44 215.05,231.84 215.37,230.34 215.71,228.08 216.22,227.28 216.51,227.33 217.24,223.40 217.50,222.94 218.23,221.03 218.29,220.13 218.90,221.41 219.66,216.94 219.68,216.20 220.55,218.16 220.42,214.67 221.26,213.25 221.46,211.47 222.33,209.14 222.62,203.80 223.34,206.41 223.63,206.60 223.94,196.26 223.94,201.04 225.08,196.63 225.58,200.72 225.74,188.40 226.22,197.22 226.20,187.96 227.27,194.65 227.35,190.13 227.98,191.56 228.38,190.33 228.69,184.96 229.16,186.61 229.48,190.08 230.04,194.17 230.41,187.66 231.00,192.44 231.18,199.14 231.86,193.42 232.42,193.03 232.85,192.17 233.30,197.80 233.77,201.20 234.50,195.92 234.63,202.93 235.59,203.01 236.02,209.57 235.85,203.07 236.25,206.81 236.65,211.08 237.40,213.13 237.75,211.81 238.29,215.40 238.94,216.02 239.42,215.47 239.52,215.08 240.07,218.52 240.64,216.60 240.66,219.12 241.40,222.49 241.88,224.45 242.15,225.45 242.77,223.81 243.42,227.08 243.41,227.90 243.85,228.36 244.75,229.19 245.09,230.03 245.29,231.43 245.75,232.35 246.37,232.14 246.90,232.54 247.28,233.35 247.61,234.33 248.05,234.72 248.63,234.79 249.03,235.41 249.52,235.57 249.91,235.54 250.38,235.66 250.84,235.93 251.29,236.27 251.70,236.43 252.22,236.58 252.63,236.85" fill="none" stroke="#111" stroke-width="0.75" stroke-linejoin="round" />
<polyline points="77.93,303.52 78.51,302.77 78.85,301.98 79.16,302.03 79.79,301.13 80.13,299.81 80.60,299.27 80.71,297.40 81.11,293.64 82.51,292.56 82.85,290.71 83.32,286.23 83.00,280.58 84.18,282.41 83.57,276.72 84.24,271.74 85.71,268.70 86.30,262.71 85.25,266.90 86.49,255.13 86.88,249.00 87.36,258.25 87.42,257.77 88.36,259.44 88.34,250.56 89.24,248.03 89.21,245.93 90.21,250.46 90.37,248.99 90.27,261.22 90.86,266.56 92.52,269.44 92.43,265.00 92.25,274.63 94.14,273.55 93.02,288.35 94.96,292.71 94.62,290.02 95.02,288.67 95.53,291.57 95.75,291.38 96.61,287.94 96.82,288.19 97.73,285.65 97.23,284.96 97.94,284.94 98.13,278.05 98.78,273.85 99.78,265.40 100.50,261.80 100.89,258.37 100.90,266.52 100.99,262.73 101.80,260.82 102.97,253.92 102.47,260.75 103.02,271.33 103.48,268.97 103.78,269.50 105.03,256.25 105.33,254.07 105.44,263.35 105.16,255.50 106.25,259.60 107.05,265.11 106.72,258.97 107.00,259.50 108.20,247.90 108.31,254.65 109.37,255.20 109.24,267.78 109.53,270.75 110.66,270.78 110.79,275.05 110.74,266.50 111.33,274.19 112.02,277.44 112.35,278.57 112.89,267.10 113.61,272.15 113.36,278.75 115.20,286.26 115.20,288.09 115.69,286.49 115.78,292.91 116.23,292.39 116.35,295.35 117.13,295.40 117.77,295.90 117.60,299.09 118.42,300.67 118.95,301.01 119.38,301.25 119.93,302.20 120.33,302.81 120.72,303.24 121.11,303.42 121.61,303.53 122.04,303.70" fill="none" stroke="#8a8a8a" stroke-width="0.8" stroke-linejoin="round" />
<polyline points="77.55,303.48 77.95,302.92 78.45,302.06 78.96,301.62 79.49,300.61 80.02,300.22 80.74,297.98 81.29,296.83 81.57,295.92 81.47,290.93 82.51,288.80 82.08,285.12 82.36,281.08 84.25,283.60 84.30,276.08 84.39,273.81 85.04,269.77 84.81,263.61 85.16,261.39 86.93,255.82 86.24,249.00 87.00,257.75 87.90,251.24 87.91,258.75 88.21,250.13 89.17,250.51 89.60,256.93 89.86,254.83 90.96,255.07 89.92,263.47 90.64,262.41 91.54,268.43 92.49,268.15 91.99,271.79 92.83,273.80 93.47,284.68 93.24,291.25 94.22,290.79 94.71,289.54 95.22,289.09 95.43,290.26 95.96,289.25 96.57,287.09 97.29,287.55 97.09,285.50 97.60,282.19 98.39,274.47 99.41,273.79 99.80,268.30 98.95,266.92 99.76,266.25 99.94,261.24 101.60,252.67 101.43,249.82 101.28,253.39 103.24,266.09 102.70,267.17 103.25,270.42 103.91,258.98 103.89,259.59 104.50,256.82 105.09,253.16 105.61,265.77 106.03,258.65 106.39,257.40 107.09,265.82 107.76,263.16 107.11,249.94 108.30,248.67 108.35,251.30 108.83,265.89 109.60,266.05 109.47,271.93 110.76,265.64 110.45,272.95 111.02,269.84 111.93,275.88 111.98,272.18 112.66,273.66 114.05,275.67 113.99,282.83 113.26,286.09 114.42,289.18 115.05,288.93 115.44,292.53 116.20,293.64 116.20,292.09 116.96,295.84 116.89,297.49 118.09,298.58 118.21,300.38 118.44,301.40 119.12,301.31 119.35,302.30 119.85,302.99 120.32,303.10 120.79,303.28 121.25,303.54 121.67,303.70" fill="none" stroke="#111" stroke-width="0.75" stroke-linejoin="round" />
<polyline points="213.35,304.00 213.78,303.90 214.27,303.82 214.68,303.70 215.12,303.58 215.73,303.08 215.89,302.81 216.54,302.17 216.87,301.04 217.38,300.77 217.91,300.18 218.39,298.46 219.17,299.64 218.51,296.27 219.02,290.33 219.76,292.13 221.27,285.24 221.09,280.86 220.67,278.14 222.52,276.12 221.97,267.18 222.34,268.69 223.57,268.00 223.74,268.67 223.71,269.36 224.42,262.65 224.43,260.69 224.77,260.08 226.49,245.33 226.32,252.83 226.70,245.22 227.33,242.40 227.70,242.40 227.97,245.50 229.07,252.26 229.07,255.86 229.47,251.02 230.20,249.83 230.31,254.30 230.89,252.83 231.30,259.69 231.88,261.68 232.30,254.62 232.74,271.62 232.36,272.89 233.53,276.65 233.91,280.46 234.57,285.88 234.48,288.98 235.80,290.20 235.48,291.59 236.33,291.32 236.47,293.21 237.17,294.79 237.64,298.63 238.06,298.32 238.53,299.47 239.14,300.47 239.42,301.02 240.04,301.55 240.27,301.74 240.84,302.69 241.26,302.87 241.70,303.13 242.20,303.28 242.64,303.34 243.09,303.59 243.54,303.68 243.98,303.93" fill="none" stroke="#8a8a8a" stroke-width="0.8" stroke-linejoin="round" />
<polyline points="212.99,304.00 213.43,303.90 213.92,303.79 214.34,303.65 214.76,303.52 215.14,303.07 215.84,302.72 216.24,301.78 216.61,301.31 217.11,300.38 217.42,299.87 217.99,298.91 218.14,298.67 219.42,296.04 219.56,293.84 219.62,287.21 219.40,283.61 220.57,280.49 221.33,280.50 221.90,272.62 222.01,271.35 222.39,266.79 223.13,265.65 223.29,265.37 223.77,263.20 224.56,263.36 224.55,262.42 225.99,259.25 225.99,256.33 226.49,242.40 226.21,251.31 226.90,242.40 227.41,249.84 227.64,242.40 227.76,242.40 229.37,255.56 229.50,248.91 229.37,260.83 230.05,257.89 230.60,263.83 230.86,251.91 231.49,261.45 232.46,259.04 233.17,268.84 231.99,269.18 232.44,278.01 234.35,281.50 234.33,284.29 234.11,287.22 235.36,290.77 235.13,293.74 235.96,294.75 236.33,294.32 236.75,296.15 237.53,296.37 237.81,298.70 238.42,299.72 238.76,299.64 239.05,301.03 239.54,301.40 239.98,301.80 240.54,302.44 240.91,302.66 241.40,303.00 241.79,303.24 242.21,303.32 242.68,303.47 243.11,303.77 243.61,303.91" fill="none" stroke="#111" stroke-width="0.75" stroke-linejoin="round" />
<polyline points="289.60,90.50 311.50,89.80 311.69,89.53 311.95,89.18 312.27,88.72 312.59,88.14 312.90,87.40 313.20,86.49 313.50,85.42 313.80,84.22 314.10,82.94 314.40,81.60 314.68,80.21 314.96,78.74 315.24,77.20 315.52,75.59 315.80,73.90 316.10,72.12 316.40,70.23 316.70,68.29 317.00,66.34 317.30,64.40 317.59,62.46 317.89,60.48 318.17,58.51 318.45,56.60 318.70,54.80 318.93,53.12 319.13,51.54 319.33,50.02 319.51,48.55 319.70,47.10 319.88,45.66 320.06,44.23 320.24,42.86 320.42,41.57 320.60,40.40 320.80,39.33 321.00,38.35 321.20,37.47 321.40,36.71 321.60,36.10 321.78,35.65 321.96,35.35 322.14,35.17 322.32,35.09 322.50,35.10 322.70,35.17 322.90,35.32 323.10,35.58 323.30,35.96 323.50,36.50 323.68,37.18 323.86,37.99 324.04,38.94 324.22,40.04 324.40,41.30 324.59,42.78 324.79,44.46 325.00,46.27 325.20,48.14 325.40,50.00 325.60,51.86 325.80,53.78 326.01,55.72 326.21,57.67 326.40,59.60 326.58,61.52 326.76,63.45 326.94,65.36 327.12,67.25 327.30,69.10 327.49,70.92 327.67,72.73 327.87,74.50 328.07,76.20 328.30,77.80 328.55,79.31 328.83,80.76 329.11,82.12 329.41,83.38 329.70,84.50 330.00,85.48 330.30,86.34 330.60,87.08 330.90,87.73 331.20,88.30 331.51,88.77 331.83,89.14 332.15,89.42 332.41,89.63 332.60,89.80 401.60,90.50" fill="none" stroke="#000" stroke-width="1.5" stroke-linejoin="round" />
<polyline points="406.60,90.50 446.60,89.80 446.86,89.53 447.22,89.18 447.64,88.72 448.08,88.14 448.50,87.40 448.90,86.49 449.30,85.42 449.70,84.22 450.10,82.94 450.50,81.60 450.89,80.18 451.29,78.65 451.68,77.06 452.05,75.46 452.40,73.90 452.71,72.39 452.99,70.91 453.26,69.41 453.52,67.89 453.80,66.30 454.10,64.63 454.40,62.89 454.70,61.13 455.00,59.35 455.30,57.60 455.59,55.82 455.89,53.99 456.17,52.20 456.45,50.51 456.70,49.00 456.92,47.68 457.11,46.50 457.29,45.45 457.48,44.52 457.70,43.70 457.96,43.02 458.25,42.48 458.54,42.05 458.83,41.67 459.10,41.30 459.34,40.90 459.58,40.51 459.80,40.17 460.00,39.95 460.20,39.90 460.38,40.00 460.53,40.22 460.68,40.57 460.83,41.09 461.00,41.80 461.19,42.82 461.38,44.13 461.58,45.55 461.79,46.90 462.00,48.00 462.22,48.73 462.44,49.22 462.66,49.62 462.88,50.13 463.10,50.90 463.31,52.00 463.51,53.30 463.71,54.73 463.91,56.19 464.10,57.60 464.28,58.96 464.46,60.32 464.64,61.68 464.82,63.04 465.00,64.40 465.19,65.75 465.39,67.09 465.60,68.42 465.80,69.76 466.00,71.10 466.20,72.44 466.39,73.78 466.59,75.12 466.79,76.46 467.00,77.80 467.22,79.19 467.46,80.62 467.70,82.03 467.94,83.35 468.20,84.50 468.46,85.48 468.72,86.34 468.99,87.08 469.28,87.73 469.60,88.30 469.99,88.77 470.45,89.14 470.92,89.42 471.32,89.63 471.60,89.80 518.80,90.50" fill="none" stroke="#000" stroke-width="1.5" stroke-linejoin="round" />
<polyline points="289.60,170.50 311.50,169.80 311.69,169.22 311.95,168.42 312.27,167.46 312.59,166.43 312.90,165.40 313.20,164.39 313.50,163.35 313.80,162.25 314.10,161.05 314.40,159.70 314.68,158.20 314.96,156.56 315.24,154.82 315.52,152.99 315.80,151.10 316.10,149.11 316.40,147.00 316.70,144.83 317.00,142.65 317.30,140.50 317.59,138.36 317.89,136.21 318.17,134.07 318.45,131.98 318.70,130.00 318.93,128.11 319.13,126.29 319.33,124.55 319.51,122.88 319.70,121.30 319.88,119.77 320.06,118.29 320.24,116.90 320.42,115.66 320.60,114.60 320.80,113.75 321.01,113.09 321.22,112.57 321.42,112.15 321.60,111.80 321.74,111.51 321.86,111.30 321.96,111.18 322.07,111.18 322.20,111.30 322.34,111.53 322.50,111.84 322.66,112.29 322.82,112.90 323.00,113.70 323.19,114.72 323.39,115.93 323.60,117.30 323.80,118.81 324.00,120.40 324.18,122.12 324.36,123.99 324.54,125.96 324.72,127.98 324.90,130.00 325.10,132.06 325.30,134.18 325.50,136.32 325.70,138.44 325.90,140.50 326.08,142.48 326.25,144.40 326.42,146.30 326.60,148.19 326.80,150.10 327.02,152.08 327.26,154.13 327.51,156.14 327.76,158.03 328.00,159.70 328.24,161.13 328.47,162.37 328.70,163.47 328.94,164.47 329.20,165.40 329.48,166.27 329.78,167.04 330.09,167.72 330.40,168.31 330.70,168.80 331.01,169.17 331.33,169.42 331.65,169.59 331.91,169.70 332.10,169.80 401.60,170.50" fill="none" stroke="#000" stroke-width="1.5" stroke-linejoin="round" />
<polyline points="406.60,170.50 449.80,169.50 450.11,169.23 450.55,168.86 451.07,168.40 451.60,167.85 452.10,167.20 452.56,166.45 453.02,165.60 453.48,164.65 453.94,163.62 454.40,162.50 454.87,161.28 455.34,159.96 455.82,158.55 456.27,157.09 456.70,155.60 457.10,154.06 457.49,152.44 457.85,150.79 458.19,149.13 458.50,147.50 458.77,145.84 459.00,144.13 459.21,142.46 459.40,140.89 459.60,139.50 459.78,138.31 459.95,137.27 460.11,136.35 460.29,135.53 460.50,134.80 460.75,134.30 461.03,134.04 461.33,133.80 461.62,133.36 461.90,132.50 462.16,131.08 462.41,129.26 462.65,127.23 462.88,125.18 463.10,123.30 463.30,121.55 463.49,119.81 463.66,118.14 463.83,116.58 464.00,115.20 464.17,114.01 464.33,112.97 464.48,112.06 464.64,111.28 464.80,110.60 464.95,109.99 465.10,109.47 465.25,109.07 465.41,108.87 465.60,108.90 465.82,109.26 466.07,109.92 466.32,110.73 466.57,111.57 466.80,112.30 467.00,112.92 467.18,113.52 467.35,114.11 467.52,114.67 467.70,115.20 467.88,115.59 468.06,115.83 468.25,116.10 468.43,116.60 468.60,117.50 468.77,118.89 468.93,120.66 469.08,122.66 469.24,124.76 469.40,126.80 469.56,128.83 469.71,130.94 469.87,133.07 470.03,135.18 470.20,137.20 470.39,139.13 470.58,141.02 470.78,142.86 470.99,144.65 471.20,146.40 471.41,148.11 471.63,149.78 471.85,151.40 472.07,152.97 472.30,154.50 472.54,155.99 472.78,157.46 473.02,158.86 473.26,160.19 473.50,161.40 473.72,162.50 473.92,163.52 474.12,164.44 474.34,165.26 474.60,166.00 474.88,166.63 475.18,167.17 475.50,167.61 475.87,167.99 476.30,168.30 476.79,168.55 477.34,168.72 477.94,168.83 478.56,168.88 479.20,168.90 479.87,168.86 480.59,168.77 481.31,168.63 482.03,168.47 482.70,168.30 483.34,168.08 483.96,167.79 484.56,167.51 485.11,167.29 485.60,167.20 485.99,167.28 486.28,167.49 486.55,167.77 486.86,168.06 487.30,168.30 487.89,168.50 488.58,168.70 489.32,168.89 490.08,169.06 490.80,169.20 491.54,169.30 492.33,169.38 493.09,169.43 493.74,169.47 494.20,169.50 518.80,170.50" fill="none" stroke="#000" stroke-width="1.5" stroke-linejoin="round" />
<polyline points="289.60,236.50 313.20,236.00 313.45,235.52 313.80,234.88 314.20,234.09 314.62,233.13 315.00,232.00 315.35,230.70 315.69,229.22 316.02,227.58 316.36,225.80 316.70,223.90 317.05,221.80 317.40,219.49 317.76,217.08 318.09,214.68 318.40,212.40 318.67,210.27 318.92,208.21 319.15,206.19 319.37,204.13 319.60,202.00 319.82,199.74 320.04,197.37 320.26,194.99 320.48,192.68 320.70,190.50 320.94,188.40 321.19,186.34 321.44,184.39 321.68,182.65 321.90,181.20 322.08,180.05 322.24,179.14 322.39,178.47 322.54,178.02 322.70,177.80 322.87,177.77 323.04,177.92 323.21,178.32 323.40,179.03 323.60,180.10 323.82,181.64 324.06,183.62 324.31,185.87 324.56,188.22 324.80,190.50 325.02,192.73 325.24,195.02 325.46,197.35 325.68,199.68 325.90,202.00 326.14,204.32 326.38,206.65 326.62,208.98 326.86,211.27 327.10,213.50 327.32,215.72 327.54,217.96 327.76,220.12 327.98,222.13 328.20,223.90 328.43,225.41 328.65,226.72 328.88,227.85 329.13,228.84 329.40,229.70 329.69,230.40 329.99,230.92 330.31,231.33 330.68,231.67 331.10,232.00 331.59,232.32 332.14,232.57 332.74,232.79 333.36,233.00 334.00,233.20 334.64,233.40 335.30,233.59 335.99,233.76 336.72,233.93 337.50,234.10 338.35,234.27 339.26,234.44 340.21,234.60 341.16,234.75 342.10,234.90 343.02,235.03 343.94,235.16 344.86,235.28 345.78,235.39 346.70,235.50 347.69,235.61 348.76,235.73 349.79,235.84 350.67,235.93 351.30,236.00 401.60,236.50" fill="none" stroke="#000" stroke-width="1.5" stroke-linejoin="round" />
<polyline points="406.60,236.50 451.50,236.00 451.81,235.82 452.25,235.58 452.76,235.27 453.30,234.85 453.80,234.30 454.28,233.58 454.79,232.73 455.29,231.77 455.76,230.74 456.20,229.70 456.59,228.62 456.96,227.46 457.30,226.27 457.61,225.07 457.90,223.90 458.16,222.77 458.38,221.68 458.58,220.57 458.78,219.42 459.00,218.20 459.24,216.90 459.48,215.54 459.72,214.13 459.96,212.68 460.20,211.20 460.42,209.67 460.64,208.08 460.86,206.46 461.08,204.82 461.30,203.20 461.53,201.55 461.77,199.86 462.02,198.18 462.26,196.57 462.50,195.10 462.73,193.77 462.96,192.56 463.18,191.42 463.43,190.35 463.70,189.30 464.01,188.28 464.36,187.29 464.72,186.36 465.07,185.49 465.40,184.70 465.70,183.96 466.00,183.25 466.28,182.63 466.54,182.13 466.80,181.80 467.04,181.65 467.27,181.65 467.49,181.79 467.70,182.04 467.90,182.40 468.08,182.84 468.25,183.39 468.41,184.05 468.59,184.84 468.80,185.80 469.05,186.97 469.33,188.35 469.63,189.83 469.92,191.35 470.20,192.80 470.45,194.17 470.68,195.51 470.91,196.86 471.14,198.24 471.40,199.70 471.68,201.24 471.98,202.86 472.29,204.51 472.60,206.17 472.90,207.80 473.20,209.42 473.50,211.06 473.81,212.68 474.11,214.27 474.40,215.80 474.68,217.27 474.95,218.68 475.22,220.06 475.50,221.42 475.80,222.80 476.11,224.23 476.43,225.71 476.76,227.15 477.12,228.51 477.50,229.70 477.91,230.73 478.35,231.63 478.81,232.42 479.29,233.11 479.80,233.70 480.33,234.17 480.89,234.51 481.47,234.77 482.07,234.98 482.70,235.20 483.42,235.42 484.22,235.61 485.02,235.77 485.71,235.90 486.20,236.00 518.80,236.50" fill="none" stroke="#000" stroke-width="1.5" stroke-linejoin="round" />
<polyline points="289.60,302.50 312.70,302.00 312.93,301.54 313.26,300.94 313.64,300.17 314.03,299.20 314.40,298.00 314.74,296.51 315.09,294.75 315.43,292.82 315.77,290.80 316.10,288.80 316.41,286.82 316.72,284.78 317.02,282.70 317.31,280.58 317.60,278.40 317.89,276.16 318.18,273.84 318.46,271.49 318.73,269.13 319.00,266.80 319.26,264.46 319.51,262.08 319.76,259.73 319.99,257.45 320.20,255.30 320.39,253.24 320.56,251.25 320.72,249.36 320.87,247.63 321.00,246.10 321.07,244.77 321.09,243.60 321.11,242.60 321.23,241.80 321.50,241.20 322.03,240.79 322.75,240.56 323.55,240.53 324.27,240.74 324.80,241.20 325.07,241.93 325.17,242.90 325.18,244.11 325.20,245.55 325.30,247.20 325.50,249.16 325.73,251.44 325.99,253.90 326.25,256.40 326.50,258.80 326.74,261.11 326.97,263.41 327.20,265.70 327.44,268.00 327.70,270.30 327.98,272.64 328.29,275.01 328.60,277.36 328.91,279.64 329.20,281.80 329.46,283.84 329.71,285.79 329.95,287.66 330.21,289.43 330.50,291.10 330.82,292.70 331.16,294.22 331.52,295.64 331.90,296.91 332.30,298.00 332.70,298.87 333.10,299.56 333.53,300.10 334.02,300.53 334.60,300.90 335.26,301.17 335.99,301.32 336.79,301.40 337.66,301.44 338.60,301.50 339.61,301.56 340.68,301.60 341.83,301.63 343.06,301.66 344.40,301.70 346.00,301.76 347.86,301.83 349.73,301.90 351.36,301.96 352.50,302.00 401.60,302.50" fill="none" stroke="#000" stroke-width="1.5" stroke-linejoin="round" />
<polyline points="406.60,302.50 452.10,302.00 452.33,301.67 452.65,301.23 453.03,300.67 453.43,300.00 453.80,299.20 454.16,298.25 454.53,297.15 454.90,295.94 455.26,294.68 455.60,293.40 455.93,292.11 456.24,290.78 456.54,289.40 456.83,287.97 457.10,286.50 457.34,284.97 457.56,283.40 457.77,281.78 457.98,280.11 458.20,278.40 458.44,276.63 458.68,274.80 458.92,272.94 459.16,271.06 459.40,269.20 459.62,267.33 459.84,265.43 460.06,263.54 460.28,261.68 460.50,259.90 460.74,258.18 460.98,256.52 461.22,254.90 461.46,253.32 461.70,251.80 461.93,250.29 462.16,248.80 462.38,247.37 462.59,246.06 462.80,244.90 462.96,243.90 463.08,243.01 463.21,242.26 463.40,241.65 463.70,241.20 464.17,240.88 464.77,240.70 465.42,240.67 466.02,240.83 466.50,241.20 466.82,241.82 467.04,242.65 467.20,243.67 467.34,244.84 467.50,246.10 467.67,247.48 467.82,249.00 467.97,250.65 468.12,252.39 468.30,254.20 468.50,256.14 468.71,258.21 468.94,260.35 469.17,262.47 469.40,264.50 469.64,266.44 469.88,268.35 470.12,270.22 470.36,272.04 470.60,273.80 470.82,275.50 471.03,277.14 471.24,278.73 471.46,280.28 471.70,281.80 471.98,283.28 472.28,284.73 472.59,286.14 472.90,287.50 473.20,288.80 473.47,290.04 473.72,291.22 473.98,292.35 474.26,293.44 474.60,294.50 474.99,295.55 475.43,296.58 475.89,297.56 476.39,298.45 476.90,299.20 477.42,299.79 477.96,300.25 478.53,300.62 479.14,300.92 479.80,301.20 480.59,301.45 481.51,301.64 482.44,301.80 483.24,301.91 483.80,302.00 518.80,302.50" fill="none" stroke="#000" stroke-width="1.5" stroke-linejoin="round" />
<polygon points="457.8,43.5 459.3,41.5 460.3,42.5 460,48 458.2,48" fill="#333"/>
<text x="120.4" y="340.5" font-size="10.2" style="font-family:'Liberation Serif',serif;font-weight:bold;stroke:#000;stroke-width:0.25px">FoxP3<tspan font-size="6.5" dy="-3.6">+</tspan></text>
<text x="227.7" y="340.5" font-size="10.2" style="font-family:'Liberation Serif',serif;font-weight:bold;stroke:#000;stroke-width:0.25px">FoxP3<tspan font-size="6.5" dy="-3.6">-</tspan></text>
<text x="14.50" y="388.00" font-size="10.2" style="font-family:'Liberation Serif',serif;font-weight:bold;stroke:#000;stroke-width:0.25px" text-anchor="start" fill="#000"  textLength="31.20" lengthAdjust="spacingAndGlyphs">Isotype</text>
<text x="8.90" y="449.00" font-size="10.2" style="font-family:'Liberation Serif',serif;font-weight:bold;stroke:#000;stroke-width:0.25px" text-anchor="start" fill="#000"  textLength="42.20" lengthAdjust="spacingAndGlyphs">Mock-Spl</text>
<text x="7.40" y="518.70" font-size="10.2" style="font-family:'Liberation Serif',serif;font-weight:bold;stroke:#000;stroke-width:0.25px" text-anchor="start" fill="#000"  textLength="45.30" lengthAdjust="spacingAndGlyphs">HIV-1-Spl</text>
<text x="4.00" y="586.20" font-size="10.2" style="font-family:'Liberation Serif',serif;font-weight:bold;stroke:#000;stroke-width:0.25px" text-anchor="start" fill="#000"  textLength="52.00" lengthAdjust="spacingAndGlyphs">Mock-mLN</text>
<text x="2.60" y="655.10" font-size="10.2" style="font-family:'Liberation Serif',serif;font-weight:bold;stroke:#000;stroke-width:0.25px" text-anchor="start" fill="#000"  textLength="54.50" lengthAdjust="spacingAndGlyphs">HIV-1-mLN</text>
<line x1="67.50" y1="359.00" x2="67.50" y2="635.00" stroke="#000" stroke-width="1.3" />
<polygon points="67.3,354.3 64.4,360.6 70.2,360.6" fill="#000"/>
<text transform="translate(71.3,682) rotate(-90)" font-size="10.2" style="font-family:'Liberation Serif',serif;font-weight:bold;stroke:#000;stroke-width:0.25px">Count</text>
<line x1="73.40" y1="343.50" x2="189.40" y2="343.50" stroke="#3c3c3c" stroke-width="1.1" />
<line x1="73.40" y1="406.50" x2="189.40" y2="406.50" stroke="#3c3c3c" stroke-width="1.1" />
<line x1="76.50" y1="343.80" x2="76.50" y2="406.00" stroke="#3c3c3c" stroke-width="1.1" />
<line x1="188.50" y1="343.80" x2="188.50" y2="406.00" stroke="#3c3c3c" stroke-width="1.1" />
<line x1="73.40" y1="359.50" x2="76.40" y2="359.50" stroke="#3c3c3c" stroke-width="1" />
<line x1="104.50" y1="406.00" x2="104.50" y2="408.00" stroke="#3c3c3c" stroke-width="1" />
<line x1="73.40" y1="374.50" x2="76.40" y2="374.50" stroke="#3c3c3c" stroke-width="1" />
<line x1="132.50" y1="406.00" x2="132.50" y2="408.00" stroke="#3c3c3c" stroke-width="1" />
<line x1="73.40" y1="390.50" x2="76.40" y2="390.50" stroke="#3c3c3c" stroke-width="1" />
<line x1="160.50" y1="406.00" x2="160.50" y2="408.00" stroke="#3c3c3c" stroke-width="1" />
<line x1="192.50" y1="343.50" x2="308.30" y2="343.50" stroke="#3c3c3c" stroke-width="1.1" />
<line x1="192.50" y1="406.50" x2="308.30" y2="406.50" stroke="#3c3c3c" stroke-width="1.1" />
<line x1="195.50" y1="343.80" x2="195.50" y2="406.00" stroke="#3c3c3c" stroke-width="1.1" />
<line x1="307.50" y1="343.80" x2="307.50" y2="406.00" stroke="#3c3c3c" stroke-width="1.1" />
<line x1="192.50" y1="359.50" x2="195.50" y2="359.50" stroke="#3c3c3c" stroke-width="1" />
<line x1="223.50" y1="406.00" x2="223.50" y2="408.00" stroke="#3c3c3c" stroke-width="1" />
<line x1="192.50" y1="374.50" x2="195.50" y2="374.50" stroke="#3c3c3c" stroke-width="1" />
<line x1="251.50" y1="406.00" x2="251.50" y2="408.00" stroke="#3c3c3c" stroke-width="1" />
<line x1="192.50" y1="390.50" x2="195.50" y2="390.50" stroke="#3c3c3c" stroke-width="1" />
<line x1="279.50" y1="406.00" x2="279.50" y2="408.00" stroke="#3c3c3c" stroke-width="1" />
<line x1="73.40" y1="420.50" x2="189.40" y2="420.50" stroke="#3c3c3c" stroke-width="1.1" />
<line x1="73.40" y1="482.50" x2="189.40" y2="482.50" stroke="#3c3c3c" stroke-width="1.1" />
<line x1="76.50" y1="420.50" x2="76.50" y2="482.40" stroke="#3c3c3c" stroke-width="1.1" />
<line x1="188.50" y1="420.50" x2="188.50" y2="482.40" stroke="#3c3c3c" stroke-width="1.1" />
<line x1="73.40" y1="435.50" x2="76.40" y2="435.50" stroke="#3c3c3c" stroke-width="1" />
<line x1="104.50" y1="482.40" x2="104.50" y2="484.40" stroke="#3c3c3c" stroke-width="1" />
<line x1="73.40" y1="451.50" x2="76.40" y2="451.50" stroke="#3c3c3c" stroke-width="1" />
<line x1="132.50" y1="482.40" x2="132.50" y2="484.40" stroke="#3c3c3c" stroke-width="1" />
<line x1="73.40" y1="466.50" x2="76.40" y2="466.50" stroke="#3c3c3c" stroke-width="1" />
<line x1="160.50" y1="482.40" x2="160.50" y2="484.40" stroke="#3c3c3c" stroke-width="1" />
<line x1="192.50" y1="420.50" x2="308.30" y2="420.50" stroke="#3c3c3c" stroke-width="1.1" />
<line x1="192.50" y1="482.50" x2="308.30" y2="482.50" stroke="#3c3c3c" stroke-width="1.1" />
<line x1="195.50" y1="420.50" x2="195.50" y2="482.40" stroke="#3c3c3c" stroke-width="1.1" />
<line x1="307.50" y1="420.50" x2="307.50" y2="482.40" stroke="#3c3c3c" stroke-width="1.1" />
<line x1="192.50" y1="435.50" x2="195.50" y2="435.50" stroke="#3c3c3c" stroke-width="1" />
<line x1="223.50" y1="482.40" x2="223.50" y2="484.40" stroke="#3c3c3c" stroke-width="1" />
<line x1="192.50" y1="451.50" x2="195.50" y2="451.50" stroke="#3c3c3c" stroke-width="1" />
<line x1="251.50" y1="482.40" x2="251.50" y2="484.40" stroke="#3c3c3c" stroke-width="1" />
<line x1="192.50" y1="466.50" x2="195.50" y2="466.50" stroke="#3c3c3c" stroke-width="1" />
<line x1="279.50" y1="482.40" x2="279.50" y2="484.40" stroke="#3c3c3c" stroke-width="1" />
<line x1="73.40" y1="487.50" x2="189.40" y2="487.50" stroke="#3c3c3c" stroke-width="1.1" />
<line x1="73.40" y1="550.50" x2="189.40" y2="550.50" stroke="#3c3c3c" stroke-width="1.1" />
<line x1="76.50" y1="487.60" x2="76.50" y2="550.00" stroke="#3c3c3c" stroke-width="1.1" />
<line x1="188.50" y1="487.60" x2="188.50" y2="550.00" stroke="#3c3c3c" stroke-width="1.1" />
<line x1="73.40" y1="503.50" x2="76.40" y2="503.50" stroke="#3c3c3c" stroke-width="1" />
<line x1="104.50" y1="550.00" x2="104.50" y2="552.00" stroke="#3c3c3c" stroke-width="1" />
<line x1="73.40" y1="518.50" x2="76.40" y2="518.50" stroke="#3c3c3c" stroke-width="1" />
<line x1="132.50" y1="550.00" x2="132.50" y2="552.00" stroke="#3c3c3c" stroke-width="1" />
<line x1="73.40" y1="534.50" x2="76.40" y2="534.50" stroke="#3c3c3c" stroke-width="1" />
<line x1="160.50" y1="550.00" x2="160.50" y2="552.00" stroke="#3c3c3c" stroke-width="1" />
<line x1="192.50" y1="487.50" x2="308.30" y2="487.50" stroke="#3c3c3c" stroke-width="1.1" />
<line x1="192.50" y1="550.50" x2="308.30" y2="550.50" stroke="#3c3c3c" stroke-width="1.1" />
<line x1="195.50" y1="487.60" x2="195.50" y2="550.00" stroke="#3c3c3c" stroke-width="1.1" />
<line x1="307.50" y1="487.60" x2="307.50" y2="550.00" stroke="#3c3c3c" stroke-width="1.1" />
<line x1="192.50" y1="503.50" x2="195.50" y2="503.50" stroke="#3c3c3c" stroke-width="1" />
<line x1="223.50" y1="550.00" x2="223.50" y2="552.00" stroke="#3c3c3c" stroke-width="1" />
<line x1="192.50" y1="518.50" x2="195.50" y2="518.50" stroke="#3c3c3c" stroke-width="1" />
<line x1="251.50" y1="550.00" x2="251.50" y2="552.00" stroke="#3c3c3c" stroke-width="1" />
<line x1="192.50" y1="534.50" x2="195.50" y2="534.50" stroke="#3c3c3c" stroke-width="1" />
<line x1="279.50" y1="550.00" x2="279.50" y2="552.00" stroke="#3c3c3c" stroke-width="1" />
<line x1="73.40" y1="554.50" x2="189.40" y2="554.50" stroke="#3c3c3c" stroke-width="1.1" />
<line x1="73.40" y1="617.50" x2="189.40" y2="617.50" stroke="#3c3c3c" stroke-width="1.1" />
<line x1="76.50" y1="554.60" x2="76.50" y2="617.00" stroke="#3c3c3c" stroke-width="1.1" />
<line x1="188.50" y1="554.60" x2="188.50" y2="617.00" stroke="#3c3c3c" stroke-width="1.1" />
<line x1="73.40" y1="570.50" x2="76.40" y2="570.50" stroke="#3c3c3c" stroke-width="1" />
<line x1="104.50" y1="617.00" x2="104.50" y2="619.00" stroke="#3c3c3c" stroke-width="1" />
<line x1="73.40" y1="585.50" x2="76.40" y2="585.50" stroke="#3c3c3c" stroke-width="1" />
<line x1="132.50" y1="617.00" x2="132.50" y2="619.00" stroke="#3c3c3c" stroke-width="1" />
<line x1="73.40" y1="601.50" x2="76.40" y2="601.50" stroke="#3c3c3c" stroke-width="1" />
<line x1="160.50" y1="617.00" x2="160.50" y2="619.00" stroke="#3c3c3c" stroke-width="1" />
<line x1="192.50" y1="554.50" x2="308.30" y2="554.50" stroke="#3c3c3c" stroke-width="1.1" />
<line x1="192.50" y1="617.50" x2="308.30" y2="617.50" stroke="#3c3c3c" stroke-width="1.1" />
<line x1="195.50" y1="554.60" x2="195.50" y2="617.00" stroke="#3c3c3c" stroke-width="1.1" />
<line x1="307.50" y1="554.60" x2="307.50" y2="617.00" stroke="#3c3c3c" stroke-width="1.1" />
<line x1="192.50" y1="570.50" x2="195.50" y2="570.50" stroke="#3c3c3c" stroke-width="1" />
<line x1="223.50" y1="617.00" x2="223.50" y2="619.00" stroke="#3c3c3c" stroke-width="1" />
<line x1="192.50" y1="585.50" x2="195.50" y2="585.50" stroke="#3c3c3c" stroke-width="1" />
<line x1="251.50" y1="617.00" x2="251.50" y2="619.00" stroke="#3c3c3c" stroke-width="1" />
<line x1="192.50" y1="601.50" x2="195.50" y2="601.50" stroke="#3c3c3c" stroke-width="1" />
<line x1="279.50" y1="617.00" x2="279.50" y2="619.00" stroke="#3c3c3c" stroke-width="1" />
<line x1="73.40" y1="622.50" x2="189.40" y2="622.50" stroke="#3c3c3c" stroke-width="1.1" />
<line x1="73.40" y1="685.50" x2="189.40" y2="685.50" stroke="#3c3c3c" stroke-width="1.1" />
<line x1="76.50" y1="622.00" x2="76.50" y2="685.00" stroke="#3c3c3c" stroke-width="1.1" />
<line x1="188.50" y1="622.00" x2="188.50" y2="685.00" stroke="#3c3c3c" stroke-width="1.1" />
<line x1="73.40" y1="637.50" x2="76.40" y2="637.50" stroke="#3c3c3c" stroke-width="1" />
<line x1="104.50" y1="685.00" x2="104.50" y2="687.00" stroke="#3c3c3c" stroke-width="1" />
<line x1="73.40" y1="653.50" x2="76.40" y2="653.50" stroke="#3c3c3c" stroke-width="1" />
<line x1="132.50" y1="685.00" x2="132.50" y2="687.00" stroke="#3c3c3c" stroke-width="1" />
<line x1="73.40" y1="669.50" x2="76.40" y2="669.50" stroke="#3c3c3c" stroke-width="1" />
<line x1="160.50" y1="685.00" x2="160.50" y2="687.00" stroke="#3c3c3c" stroke-width="1" />
<line x1="192.50" y1="622.50" x2="308.30" y2="622.50" stroke="#3c3c3c" stroke-width="1.1" />
<line x1="192.50" y1="685.50" x2="308.30" y2="685.50" stroke="#3c3c3c" stroke-width="1.1" />
<line x1="195.50" y1="622.00" x2="195.50" y2="685.00" stroke="#3c3c3c" stroke-width="1.1" />
<line x1="307.50" y1="622.00" x2="307.50" y2="685.00" stroke="#3c3c3c" stroke-width="1.1" />
<line x1="192.50" y1="637.50" x2="195.50" y2="637.50" stroke="#3c3c3c" stroke-width="1" />
<line x1="223.50" y1="685.00" x2="223.50" y2="687.00" stroke="#3c3c3c" stroke-width="1" />
<line x1="192.50" y1="653.50" x2="195.50" y2="653.50" stroke="#3c3c3c" stroke-width="1" />
<line x1="251.50" y1="685.00" x2="251.50" y2="687.00" stroke="#3c3c3c" stroke-width="1" />
<line x1="192.50" y1="669.50" x2="195.50" y2="669.50" stroke="#3c3c3c" stroke-width="1" />
<line x1="279.50" y1="685.00" x2="279.50" y2="687.00" stroke="#3c3c3c" stroke-width="1" />
<text x="82.70" y="416.60" font-size="10.2" style="font-family:'Liberation Serif',serif;font-weight:bold;stroke:#000;stroke-width:0.25px" text-anchor="start" fill="#000" >mIgG1</text>
<line x1="127.70" y1="412.90" x2="286.60" y2="412.90" stroke="#000" stroke-width="1.5" />
<polygon points="292.10,412.90 286.10,410.20 286.10,415.60" fill="#000"/>
<text x="79.60" y="696.50" font-size="10.2" style="font-family:'Liberation Serif',serif;font-weight:bold;stroke:#000;stroke-width:0.25px" text-anchor="start" fill="#000" >p24</text>
<line x1="119.60" y1="693.30" x2="276.80" y2="693.30" stroke="#000" stroke-width="1.5" />
<polygon points="282.30,693.30 276.30,690.60 276.30,696.00" fill="#000"/>
<line x1="133.20" y1="361.50" x2="188.90" y2="361.50" stroke="#555" stroke-width="1" />
<line x1="133.50" y1="361.90" x2="133.50" y2="366.50" stroke="#555" stroke-width="1" />
<line x1="251.70" y1="361.50" x2="307.80" y2="361.50" stroke="#555" stroke-width="1" />
<line x1="251.50" y1="361.80" x2="251.50" y2="366.50" stroke="#555" stroke-width="1" />
<line x1="133.20" y1="437.50" x2="188.90" y2="437.50" stroke="#555" stroke-width="1" />
<line x1="133.50" y1="437.90" x2="133.50" y2="442.00" stroke="#555" stroke-width="1" />
<line x1="250.70" y1="438.50" x2="307.80" y2="438.50" stroke="#555" stroke-width="1" />
<line x1="250.50" y1="438.40" x2="250.50" y2="442.50" stroke="#555" stroke-width="1" />
<line x1="133.20" y1="505.50" x2="188.90" y2="505.50" stroke="#555" stroke-width="1" />
<line x1="133.50" y1="505.40" x2="133.50" y2="509.50" stroke="#555" stroke-width="1" />
<line x1="251.20" y1="505.50" x2="307.80" y2="505.50" stroke="#555" stroke-width="1" />
<line x1="251.50" y1="505.40" x2="251.50" y2="509.50" stroke="#555" stroke-width="1" />
<line x1="133.20" y1="572.50" x2="188.90" y2="572.50" stroke="#555" stroke-width="1" />
<line x1="133.50" y1="572.40" x2="133.50" y2="576.50" stroke="#555" stroke-width="1" />
<line x1="251.90" y1="572.50" x2="307.80" y2="572.50" stroke="#555" stroke-width="1" />
<line x1="251.50" y1="572.40" x2="251.50" y2="576.50" stroke="#555" stroke-width="1" />
<line x1="133.20" y1="639.50" x2="188.90" y2="639.50" stroke="#555" stroke-width="1" />
<line x1="133.50" y1="639.90" x2="133.50" y2="644.00" stroke="#555" stroke-width="1" />
<line x1="252.20" y1="639.50" x2="307.80" y2="639.50" stroke="#555" stroke-width="1" />
<line x1="252.50" y1="639.80" x2="252.50" y2="644.00" stroke="#555" stroke-width="1" />
<text x="164.40" y="357.70" font-size="10.4" style="font-family:'Liberation Serif',serif;font-weight:bold;stroke:#000;stroke-width:0.25px" text-anchor="end" fill="#000" >0</text>
<text x="288.70" y="357.50" font-size="10.4" style="font-family:'Liberation Serif',serif;font-weight:bold;stroke:#000;stroke-width:0.25px" text-anchor="end" fill="#000" >0.01</text>
<text x="170.10" y="433.30" font-size="10.4" style="font-family:'Liberation Serif',serif;font-weight:bold;stroke:#000;stroke-width:0.25px" text-anchor="end" fill="#000" >0.17</text>
<text x="288.10" y="433.30" font-size="10.4" style="font-family:'Liberation Serif',serif;font-weight:bold;stroke:#000;stroke-width:0.25px" text-anchor="end" fill="#000" >0.02</text>
<text x="167.80" y="502.60" font-size="10.4" style="font-family:'Liberation Serif',serif;font-weight:bold;stroke:#000;stroke-width:0.25px" text-anchor="end" fill="#000" >7.7</text>
<text x="283.50" y="502.60" font-size="10.4" style="font-family:'Liberation Serif',serif;font-weight:bold;stroke:#000;stroke-width:0.25px" text-anchor="end" fill="#000" >3.4</text>
<text x="170.10" y="567.30" font-size="10.4" style="font-family:'Liberation Serif',serif;font-weight:bold;stroke:#000;stroke-width:0.25px" text-anchor="end" fill="#000" >0.15</text>
<text x="288.10" y="567.30" font-size="10.4" style="font-family:'Liberation Serif',serif;font-weight:bold;stroke:#000;stroke-width:0.25px" text-anchor="end" fill="#000" >0.01</text>
<text x="170.00" y="637.60" font-size="10.4" style="font-family:'Liberation Serif',serif;font-weight:bold;stroke:#000;stroke-width:0.25px" text-anchor="end" fill="#000" >13.9</text>
<text x="285.80" y="637.00" font-size="10.4" style="font-family:'Liberation Serif',serif;font-weight:bold;stroke:#000;stroke-width:0.25px" text-anchor="end" fill="#000" >4.4</text>
<text x="155.30" y="372.00" font-size="9.8" style="font-family:'Liberation Sans',sans-serif;stroke:#333;stroke-width:0.2px" text-anchor="start" fill="#222"  textLength="15.80" lengthAdjust="spacingAndGlyphs">R98</text>
<text x="275.90" y="370.90" font-size="9.8" style="font-family:'Liberation Sans',sans-serif;stroke:#333;stroke-width:0.2px" text-anchor="start" fill="#222"  textLength="15.80" lengthAdjust="spacingAndGlyphs">R99</text>
<text x="155.20" y="449.10" font-size="9.8" style="font-family:'Liberation Sans',sans-serif;stroke:#333;stroke-width:0.2px" text-anchor="start" fill="#222"  textLength="15.80" lengthAdjust="spacingAndGlyphs">R98</text>
<text x="273.90" y="447.20" font-size="9.8" style="font-family:'Liberation Sans',sans-serif;stroke:#333;stroke-width:0.2px" text-anchor="start" fill="#222"  textLength="15.80" lengthAdjust="spacingAndGlyphs">R99</text>
<text x="155.20" y="516.10" font-size="9.8" style="font-family:'Liberation Sans',sans-serif;stroke:#333;stroke-width:0.2px" text-anchor="start" fill="#222"  textLength="15.80" lengthAdjust="spacingAndGlyphs">R98</text>
<text x="273.20" y="514.70" font-size="9.8" style="font-family:'Liberation Sans',sans-serif;stroke:#333;stroke-width:0.2px" text-anchor="start" fill="#222"  textLength="15.80" lengthAdjust="spacingAndGlyphs">R99</text>
<text x="155.20" y="583.10" font-size="9.8" style="font-family:'Liberation Sans',sans-serif;stroke:#333;stroke-width:0.2px" text-anchor="start" fill="#222"  textLength="15.80" lengthAdjust="spacingAndGlyphs">R98</text>
<text x="275.60" y="581.20" font-size="9.8" style="font-family:'Liberation Sans',sans-serif;stroke:#333;stroke-width:0.2px" text-anchor="start" fill="#222"  textLength="15.80" lengthAdjust="spacingAndGlyphs">R99</text>
<text x="154.30" y="651.30" font-size="9.8" style="font-family:'Liberation Sans',sans-serif;stroke:#333;stroke-width:0.2px" text-anchor="start" fill="#222"  textLength="15.80" lengthAdjust="spacingAndGlyphs">R98</text>
<text x="276.10" y="648.40" font-size="9.8" style="font-family:'Liberation Sans',sans-serif;stroke:#333;stroke-width:0.2px" text-anchor="start" fill="#222"  textLength="15.80" lengthAdjust="spacingAndGlyphs">R99</text>
<rect x="110.10" y="344.00" width="5.90" height="7.80" fill="#8a8a8a" stroke="none" stroke-width="0"/>
<rect x="110.10" y="351.80" width="2.20" height="7.20" fill="#8a8a8a" stroke="none" stroke-width="0"/>
<rect x="117.30" y="344.00" width="5.30" height="15.00" fill="#8a8a8a" stroke="none" stroke-width="0"/>
<rect x="112.00" y="352.00" width="2.70" height="7.50" fill="#000" stroke="none" stroke-width="0"/>
<rect x="118.30" y="352.00" width="1.30" height="7.00" fill="#000" stroke="none" stroke-width="0"/>
<rect x="103.60" y="390.60" width="4.60" height="8.90" fill="#8a8a8a" stroke="none" stroke-width="0"/>
<rect x="103.60" y="399.50" width="4.60" height="6.50" fill="#000" stroke="none" stroke-width="0"/>
<rect x="125.20" y="375.00" width="2.30" height="15.60" fill="#8a8a8a" stroke="none" stroke-width="0"/>
<rect x="125.20" y="390.60" width="3.00" height="15.40" fill="#000" stroke="none" stroke-width="0"/>
<line x1="130.50" y1="391.00" x2="130.50" y2="406.00" stroke="#777" stroke-width="1" />
<polyline points="111.10,359.00 111.10,381.80 109.80,381.80 109.80,391.00 109.20,391.00 109.20,406.00" fill="none" stroke="#000" stroke-width="2.0" stroke-linejoin="round" />
<polyline points="121.80,359.00 121.80,375.30 123.20,375.30 123.20,406.00" fill="none" stroke="#000" stroke-width="1.7" stroke-linejoin="round" />
<line x1="125.00" y1="344.00" x2="125.00" y2="375.30" stroke="#000" stroke-width="1.6" />
<line x1="114.50" y1="358.00" x2="114.50" y2="375.30" stroke="#999" stroke-width="0.9" />
<line x1="118.50" y1="358.00" x2="118.50" y2="375.30" stroke="#999" stroke-width="0.9" />
<polyline points="213.50,406.00 215.00,400.00 217.00,380.00 220.50,344.60 242.60,344.60 243.60,363.00 244.60,385.00 246.10,405.00 247.00,406.00 251.00,406.00" fill="none" stroke="#000" stroke-width="1.0" stroke-linejoin="round" />
<polygon points="214,406 216,391 217.6,391 216.8,406" fill="#000"/>
<polyline points="99.86,482.00 100.33,481.77 100.73,481.49 101.38,480.02 101.13,478.22 102.32,476.39 102.09,474.30 102.61,474.22 102.90,471.43 103.31,471.53 104.04,468.98 104.24,466.93 104.78,459.13 104.32,453.43 105.80,448.08 106.19,442.62 105.56,435.16 107.02,427.00 106.55,430.09 107.10,420.80 107.50,420.80 107.90,420.80 108.30,420.80 108.70,420.80 109.10,420.80 109.50,420.80 109.90,420.80 110.30,420.80 110.70,420.80 111.10,420.80 111.50,420.80 111.90,420.80 112.30,420.80 112.70,420.80 113.10,420.80 113.50,420.80 113.90,420.80 114.30,420.80 114.70,420.80 115.10,420.80 115.50,420.80 115.90,420.80 116.30,420.80 116.70,420.80 117.10,420.80 117.50,420.80 117.90,420.80 118.30,420.80 118.70,420.80 119.10,420.80 119.50,420.80 119.90,420.80 120.30,420.80 120.70,420.80 121.10,420.80 121.50,420.80 121.90,420.80 122.05,420.80 122.69,428.84 123.71,427.05 123.76,438.39 124.50,440.82 124.53,448.20 125.82,449.98 125.79,457.79 125.99,461.97 125.56,463.04 126.69,467.80 127.94,471.03 126.76,474.79 127.21,477.72 128.11,478.87 128.77,479.74 129.07,479.82 129.50,479.05 129.84,478.53 130.25,478.13 130.53,478.87 130.86,479.36 131.38,480.32 131.82,480.94 132.25,480.39 132.50,479.72 133.06,479.46 133.42,478.78 133.82,478.57 134.22,478.54 134.62,478.20 135.05,478.08 135.45,478.43 135.85,478.09 136.25,477.89 136.65,478.06 137.00,478.45 137.36,478.77 137.62,479.90 138.40,480.74 138.75,481.18 139.09,481.42 139.40,481.66 139.82,481.89" fill="none" stroke="#6a6a6a" stroke-width="0.8" stroke-linejoin="round" />
<polyline points="99.51,482.00 99.99,481.76 100.56,481.52 100.41,479.89 101.44,478.01 101.96,476.10 102.12,474.31 102.22,473.54 102.77,472.10 102.92,470.26 103.73,468.17 103.68,466.76 104.12,461.92 105.24,454.68 104.37,451.94 105.17,446.15 105.53,439.67 106.01,435.12 105.89,423.06 107.10,420.80 107.50,420.80 107.90,420.80 108.30,420.80 108.70,420.80 109.10,420.80 109.50,420.80 109.90,420.80 110.30,420.80 110.70,420.80 111.10,420.80 111.50,420.80 111.90,420.80 112.30,420.80 112.70,420.80 113.10,420.80 113.50,420.80 113.90,420.80 114.30,420.80 114.70,420.80 115.10,420.80 115.50,420.80 115.90,420.80 116.30,420.80 116.70,420.80 117.10,420.80 117.50,420.80 117.90,420.80 118.30,420.80 118.70,420.80 119.10,420.80 119.50,420.80 119.90,420.80 120.30,420.80 120.70,420.80 121.10,420.80 121.50,420.80 121.90,420.80 121.79,420.80 121.84,429.53 122.63,427.37 124.00,434.68 124.23,440.27 123.66,446.75 124.75,450.52 124.90,454.65 125.56,459.19 125.52,464.05 126.69,467.62 127.18,470.74 127.09,473.70 127.02,477.21 128.17,478.83 128.26,479.61 128.73,479.93 129.12,479.32 129.56,478.82 129.90,478.34 130.37,478.81 130.71,479.52 130.99,480.21 131.49,481.03 131.82,480.46 132.18,480.04 132.72,479.51 133.17,479.17 133.47,478.62 133.92,478.85 134.27,478.16 134.68,477.96 135.08,477.85 135.50,477.83 135.90,478.23 136.30,478.20 136.75,477.88 137.06,478.83 137.48,479.96 138.01,480.82 138.22,481.20 138.67,481.40 139.09,481.64 139.52,481.88" fill="none" stroke="#111" stroke-width="1.1" stroke-linejoin="round" />
<polyline points="99.06,549.80 99.45,549.56 99.89,549.24 100.25,549.15 100.61,548.80 101.03,548.29 101.32,548.36 101.69,548.00 101.84,545.85 102.86,545.80 103.15,544.28 103.27,540.20 103.34,539.96 104.04,539.65 105.16,532.44 105.70,529.16 105.52,529.17 105.83,525.78 105.71,521.71 106.42,527.32 106.91,525.43 107.58,527.12 107.92,524.22 108.33,521.73 108.64,515.32 108.79,523.18 109.97,523.16 109.61,513.12 110.04,510.69 110.45,513.00 110.32,498.00 112.34,503.71 111.83,493.79 112.41,494.47 112.69,487.90 112.70,488.06 113.54,494.48 113.53,487.95 114.39,493.02 114.75,493.28 114.51,488.28 115.10,487.90 115.50,487.90 115.90,487.90 116.30,487.90 116.70,487.90 117.10,487.90 117.50,487.90 117.90,487.90 118.30,487.90 118.70,487.90 119.10,487.90 119.50,487.90 119.90,487.90 120.30,487.90 120.70,487.90 121.10,487.90 121.50,487.90 121.90,487.90 122.30,487.90 122.70,487.90 123.10,487.90 123.50,487.90 123.90,487.90 124.30,487.90 124.70,487.90 125.10,487.90 125.50,487.90 125.90,487.90 126.30,487.90 126.70,487.90 127.84,487.90 127.62,500.55 128.57,503.58 129.47,508.00 129.86,504.21 129.60,513.71 129.84,516.57 129.82,512.17 130.07,522.06 131.57,514.69 131.42,525.71 131.13,528.72 131.91,525.74 132.51,529.98 132.93,525.98 133.95,531.10 133.84,528.23 134.35,523.70 134.92,526.77 134.53,525.92 135.98,536.37 136.03,540.28 136.35,540.84 136.54,543.17 136.92,543.07 137.17,544.57 138.07,545.23 138.29,544.74 138.76,546.33 138.97,546.76 139.60,547.08 139.76,548.07 140.23,547.77 140.64,547.47 141.10,547.33 141.40,547.59 141.83,547.28 142.21,547.02 142.64,546.40 143.10,546.88 143.28,547.69 143.99,548.41 144.30,549.00 144.65,548.64 145.09,548.34 145.49,548.07 145.88,547.81 146.24,547.56 146.62,547.84 147.00,548.55 147.46,548.68 147.76,549.19 148.25,549.44 148.68,549.58 149.06,549.58 149.45,549.64 149.86,549.67 150.25,549.75 150.66,549.78" fill="none" stroke="#6a6a6a" stroke-width="0.8" stroke-linejoin="round" />
<polyline points="98.67,549.80 99.14,549.51 99.49,549.33 99.83,549.07 100.29,548.83 100.68,548.54 101.02,548.23 101.46,547.41 102.08,545.90 102.50,545.18 102.46,543.06 103.09,541.33 104.11,540.23 103.87,535.43 104.65,534.34 105.12,533.90 105.47,530.06 106.00,528.11 106.11,526.15 106.66,520.68 106.76,520.75 107.26,524.10 107.37,525.21 107.83,518.54 108.12,518.50 108.34,519.01 109.69,514.88 109.43,516.64 110.72,506.03 109.77,509.98 110.95,501.03 110.67,501.37 111.18,498.00 112.12,487.92 112.37,487.90 112.70,488.06 113.17,487.90 113.38,489.96 113.89,500.69 114.41,494.75 114.25,487.95 115.10,487.90 115.50,487.90 115.90,487.90 116.30,487.90 116.70,487.90 117.10,487.90 117.50,487.90 117.90,487.90 118.30,487.90 118.70,487.90 119.10,487.90 119.50,487.90 119.90,487.90 120.30,487.90 120.70,487.90 121.10,487.90 121.50,487.90 121.90,487.90 122.30,487.90 122.70,487.90 123.10,487.90 123.50,487.90 123.90,487.90 124.30,487.90 124.70,487.90 125.10,487.90 125.50,487.90 125.90,487.90 126.30,487.90 126.70,487.90 126.81,489.77 128.33,490.07 128.46,493.28 128.67,508.00 128.70,499.86 129.27,502.71 129.07,513.11 129.98,508.54 129.97,512.09 131.37,518.86 130.50,521.03 132.02,527.18 131.18,527.80 132.26,528.39 132.49,529.62 133.46,529.18 133.66,528.66 133.92,522.10 134.77,523.01 135.17,531.11 134.31,532.35 135.69,539.44 135.87,541.30 136.21,542.66 136.62,542.36 137.17,543.43 137.29,545.39 137.90,544.93 138.20,546.26 138.56,546.36 139.10,546.75 139.54,547.80 139.88,547.85 140.30,548.09 140.72,547.55 141.10,547.58 141.54,546.85 141.84,546.73 142.30,546.63 142.63,547.10 143.10,547.76 143.63,548.08 143.96,548.97 144.28,548.88 144.77,548.65 145.17,548.27 145.48,548.24 145.90,547.98 146.23,548.08 146.73,548.21 147.16,548.70 147.42,549.08 147.91,549.47 148.28,549.58 148.70,549.63 149.11,549.65 149.50,549.70 149.90,549.72 150.30,549.77" fill="none" stroke="#111" stroke-width="1.1" stroke-linejoin="round" />
<polyline points="91.52,617.00 92.03,616.68 92.29,616.38 92.72,616.16 93.10,615.93 93.52,615.68 94.02,615.29 94.42,615.04 94.67,614.78 95.17,614.59 95.48,613.99 95.97,613.81 96.44,613.38 96.77,612.91 97.18,612.16 97.69,611.16 98.04,610.66 98.46,610.97 99.11,607.91 98.73,606.61 99.59,602.78 100.58,600.25 100.38,598.96 101.04,595.33 100.80,594.55 101.70,587.73 102.12,582.26 102.23,579.12 102.80,575.24 104.04,564.42 103.43,561.61 104.44,559.90 104.36,565.07 104.48,557.56 105.00,562.32 105.20,555.00 105.60,555.00 106.00,555.00 106.40,555.00 106.80,555.00 107.20,555.00 107.60,555.00 108.00,555.00 108.40,555.00 108.80,555.00 109.20,555.00 109.60,555.00 110.00,555.00 110.40,555.00 110.80,555.00 111.20,555.00 111.60,555.00 112.00,555.00 112.40,555.00 112.80,555.00 113.20,555.00 113.60,555.00 114.00,555.00 114.40,555.00 114.80,555.00 115.20,555.00 115.60,555.00 116.00,555.00 116.40,555.00 116.80,555.00 117.20,555.00 117.60,555.00 118.00,555.00 118.40,555.00 118.80,555.00 119.20,555.00 119.60,555.00 120.00,555.00 120.40,555.00 120.88,560.77 121.29,564.95 121.12,569.17 122.88,577.53 122.21,583.44 122.34,588.41 124.14,591.64 123.88,598.26 124.35,600.95 124.89,603.04 125.47,606.90 125.76,607.33 125.81,609.21 126.63,610.94 127.02,612.27 127.15,612.25 127.50,613.28 128.01,613.46 128.28,614.14 128.87,614.47 129.09,615.04 129.53,615.10 129.93,615.44 130.32,615.35 130.73,615.53 131.17,615.60 131.57,615.86 131.94,615.76 132.33,616.05 132.75,615.95 133.16,615.93 133.55,615.95 133.94,615.80 134.34,615.75 134.74,615.79 135.15,615.80 135.55,615.53 135.94,615.63 136.34,615.54 136.72,615.74 137.19,615.83 137.53,616.00 137.92,616.05 138.38,616.15 138.71,616.34 139.16,616.41 139.57,616.51 139.95,616.65 140.37,616.70 140.73,616.79 141.13,616.87 141.55,616.96" fill="none" stroke="#6a6a6a" stroke-width="0.8" stroke-linejoin="round" />
<polyline points="91.23,617.00 91.55,616.73 92.06,616.41 92.38,616.16 92.75,615.86 93.12,615.46 93.56,615.21 94.08,614.96 94.41,614.54 94.82,614.52 95.26,614.09 95.73,613.28 96.10,613.11 96.28,612.69 96.70,611.58 97.34,611.39 97.57,611.23 98.17,610.44 98.93,608.23 99.10,606.90 99.60,604.68 99.33,601.93 99.55,598.19 101.17,594.09 99.94,591.53 100.49,587.42 101.30,583.08 101.96,576.56 102.14,572.82 102.45,570.43 103.88,563.10 103.46,564.55 104.30,555.35 104.21,558.40 104.68,555.00 105.20,555.00 105.60,555.00 106.00,555.00 106.40,555.00 106.80,555.00 107.20,555.00 107.60,555.00 108.00,555.00 108.40,555.00 108.80,555.00 109.20,555.00 109.60,555.00 110.00,555.00 110.40,555.00 110.80,555.00 111.20,555.00 111.60,555.00 112.00,555.00 112.40,555.00 112.80,555.00 113.20,555.00 113.60,555.00 114.00,555.00 114.40,555.00 114.80,555.00 115.20,555.00 115.60,555.00 116.00,555.00 116.40,555.00 116.80,555.00 117.20,555.00 117.60,555.00 118.00,555.00 118.40,555.00 118.80,555.00 119.20,555.00 119.60,555.00 120.00,555.00 120.40,555.00 120.15,558.13 122.09,562.78 120.90,573.85 122.54,576.82 121.62,582.17 122.59,586.28 123.35,593.49 123.84,596.23 124.34,598.41 124.69,603.53 124.52,605.46 124.81,606.58 125.56,608.48 125.76,610.80 126.48,612.10 126.63,612.72 127.23,613.39 127.52,613.55 128.13,614.24 128.37,614.61 128.75,615.09 129.23,615.16 129.62,615.32 130.02,615.35 130.38,615.59 130.81,615.64 131.21,615.76 131.60,615.81 132.01,615.95 132.40,615.98 132.79,615.96 133.19,615.88 133.59,615.89 133.99,615.81 134.39,615.80 134.81,615.73 135.19,615.58 135.60,615.56 135.99,615.48 136.42,615.65 136.83,615.73 137.18,615.92 137.59,615.98 137.98,616.16 138.40,616.25 138.80,616.40 139.21,616.53 139.59,616.62 140.02,616.69 140.38,616.77 140.82,616.86 141.21,616.96" fill="none" stroke="#111" stroke-width="1.1" stroke-linejoin="round" />
<polyline points="98.45,685.00 98.58,684.42 99.13,683.60 99.52,683.43 99.93,683.72 100.34,684.30 100.68,684.85 101.15,685.00 101.55,685.00 101.95,685.00 102.35,685.00 102.81,685.00 102.95,684.26 103.31,680.76 104.24,676.48 103.60,670.94 105.14,668.88 105.06,667.17 105.01,665.07 105.66,656.58 105.86,662.60 106.04,649.86 106.75,647.00 108.13,649.04 107.72,638.28 108.00,630.50 108.84,635.86 108.73,622.81 109.68,632.09 109.84,631.18 110.00,622.50 110.40,622.50 110.80,622.50 111.20,622.50 111.60,622.50 112.00,622.50 112.40,622.50 112.80,622.50 113.20,622.50 114.70,631.67 115.15,643.57 115.06,637.20 115.00,630.40 116.11,625.50 116.36,633.50 116.00,622.50 117.56,641.97 118.03,649.39 117.27,649.53 117.73,640.51 117.59,623.90 118.41,628.60 118.80,622.50 119.20,622.50 119.60,622.50 120.00,622.50 120.40,622.50 120.80,622.50 121.20,622.50 121.60,622.50 122.00,622.50 122.40,622.50 122.80,622.50 123.20,622.50 123.60,622.50 124.00,622.50 124.40,622.50 124.80,622.50 125.20,622.50 125.60,622.50 126.00,622.50 126.40,622.50 126.80,622.50 127.20,622.50 127.60,622.50 128.00,622.50 128.40,622.50 128.80,622.50 129.20,622.50 129.60,622.50 130.00,622.50 130.40,622.50 130.80,622.50 131.20,622.50 131.60,622.50 132.00,622.50 132.40,622.50 133.96,642.17 132.84,641.96 133.36,655.92 134.44,657.04 134.68,651.03 135.10,658.77 135.97,649.15 136.40,654.96 136.30,651.85 137.31,650.28 136.68,656.05 137.39,655.17 138.00,663.10 138.59,661.36 138.80,657.26 139.15,659.99 139.55,666.12 139.95,667.53 140.36,662.79 140.80,658.80 141.08,664.34 140.75,669.33 142.32,668.92 142.67,669.15 142.85,670.65 143.12,671.52 143.31,674.00 143.94,676.37 144.37,677.22 144.77,677.66 145.41,677.82 145.59,678.41 145.95,680.59 146.66,677.36 146.74,673.25 146.88,674.93 148.38,680.94 147.88,681.61 148.46,682.32 148.77,682.95 149.08,683.34 149.49,683.88 149.99,684.11 150.32,684.34 150.72,684.46 151.15,684.62 151.53,684.79 151.94,684.89 152.36,685.00 152.83,684.41 153.11,683.95 153.65,683.32 154.02,682.71 154.40,682.51 154.63,681.86 155.19,682.43 155.69,680.57 155.94,681.69 156.42,679.87 157.01,682.57 157.28,685.00 157.58,685.00 157.95,685.00 158.35,685.00 158.75,685.00 158.97,685.00 159.29,683.26 160.00,680.30 160.33,678.23 161.02,680.51 161.69,685.00 161.65,685.00 161.95,685.00" fill="none" stroke="#6a6a6a" stroke-width="0.8" stroke-linejoin="round" />
<polyline points="97.97,685.00 98.53,684.33 98.78,683.22 99.22,683.52 99.51,683.89 99.87,684.35 100.39,684.87 100.81,685.00 101.20,685.00 101.60,685.00 102.00,685.00 102.44,685.00 102.85,684.18 103.07,680.22 104.35,676.35 104.29,674.46 103.61,668.32 104.61,668.49 104.45,661.97 105.42,655.61 106.39,662.76 106.70,657.38 106.20,649.21 106.41,648.39 107.63,642.79 107.32,635.85 108.35,624.86 108.95,622.50 109.27,623.55 109.64,631.18 110.00,622.50 110.40,622.50 110.80,622.50 111.20,622.50 111.60,622.50 112.00,622.50 112.40,622.50 112.80,622.50 113.20,622.50 113.06,629.94 114.86,637.82 114.26,639.11 114.88,636.50 114.83,636.50 115.18,633.50 116.00,622.50 116.53,641.97 116.18,653.43 118.00,647.33 116.90,639.08 118.85,634.90 118.76,622.50 118.80,622.50 119.20,622.50 119.60,622.50 120.00,622.50 120.40,622.50 120.80,622.50 121.20,622.50 121.60,622.50 122.00,622.50 122.40,622.50 122.80,622.50 123.20,622.50 123.60,622.50 124.00,622.50 124.40,622.50 124.80,622.50 125.20,622.50 125.60,622.50 126.00,622.50 126.40,622.50 126.80,622.50 127.20,622.50 127.60,622.50 128.00,622.50 128.40,622.50 128.80,622.50 129.20,622.50 129.60,622.50 130.00,622.50 130.40,622.50 130.80,622.50 131.20,622.50 131.60,622.50 132.00,622.50 132.40,622.50 132.05,631.17 133.60,651.34 133.84,660.38 133.94,655.93 134.83,655.24 135.16,654.79 135.45,647.15 135.11,652.64 135.81,652.24 135.65,641.07 136.16,655.17 136.30,662.77 137.81,662.12 138.05,660.91 138.45,664.36 138.82,658.18 139.20,660.19 139.60,661.68 140.06,660.76 140.26,657.64 140.96,665.66 140.73,669.32 141.98,671.47 141.68,669.46 142.67,672.77 142.76,673.81 143.37,674.25 143.62,675.24 144.27,676.51 144.62,678.21 144.87,677.76 145.22,680.20 146.02,680.43 146.01,674.50 146.38,671.57 147.67,675.63 146.48,681.65 147.52,681.49 147.99,682.78 148.42,682.66 148.66,683.35 149.30,684.10 149.63,684.29 150.00,684.24 150.42,684.49 150.76,684.59 151.18,684.78 151.60,684.88 151.98,685.00 152.38,684.44 152.88,684.03 153.25,683.50 153.67,682.98 154.11,682.28 154.26,682.63 154.88,682.12 155.09,681.45 155.61,681.08 156.29,681.04 156.55,683.29 156.58,685.00 157.20,685.00 157.60,685.00 158.00,685.00 158.40,685.00 158.95,685.00 159.06,683.36 159.05,679.55 159.96,674.80 159.65,680.39 160.61,685.00 161.27,685.00 161.60,685.00" fill="none" stroke="#111" stroke-width="1.1" stroke-linejoin="round" />
<polyline points="207.80,483.00 212.90,482.00 214.80,475.00 216.10,465.00 216.70,455.00 217.30,440.00 218.20,430.00 219.00,421.30 245.90,421.30 246.30,430.00 246.80,445.00 247.10,460.00 247.80,470.00 249.00,477.00 251.00,481.00 252.90,482.00 256.00,482.50 259.80,482.30 263.00,482.80 267.50,483.00" fill="none" stroke="#000" stroke-width="1.0" stroke-linejoin="round" />
<polyline points="212.10,617.00 215.00,614.00 217.30,605.00 219.00,590.00 220.70,575.00 221.90,560.00 223.00,555.30 240.30,555.30 240.90,565.00 241.50,580.00 242.10,595.00 243.20,605.00 244.40,612.00 246.70,616.00 250.20,617.00" fill="none" stroke="#000" stroke-width="1.0" stroke-linejoin="round" />
<polyline points="213.20,684.50 217.80,680.00 220.90,665.00 222.80,640.00 224.00,625.00 225.20,622.50 249.80,622.50 250.90,635.00 252.50,645.00 254.00,655.00 255.50,665.00 257.80,675.00 260.90,681.00 265.50,683.00 273.20,684.50" fill="none" stroke="#000" stroke-width="1.0" stroke-linejoin="round" />
<polyline points="213.53,550.00 213.96,549.59 214.32,548.97 214.77,548.57 215.17,547.95 215.52,548.52 215.95,547.91 216.39,547.19 216.71,545.71 217.14,548.40 217.54,545.08 218.04,545.36 218.25,543.00 218.77,543.40 219.31,541.75 219.41,536.55 220.18,536.75 220.49,528.25 220.84,530.33 221.33,519.00 221.37,519.67 221.78,514.33 222.25,501.37 222.69,496.93 223.35,496.20 223.76,493.80 224.03,491.40 224.00,487.80 224.40,487.80 224.80,487.80 225.20,487.80 225.60,487.80 226.00,487.80 226.40,487.80 226.80,487.80 227.20,487.80 227.60,487.80 228.00,487.80 228.40,487.80 228.80,487.80 229.20,487.80 229.60,487.80 230.00,487.80 230.40,487.80 230.80,487.80 231.20,487.80 231.60,487.80 232.00,487.80 232.40,487.80 232.80,487.80 233.20,487.80 233.60,487.80 234.00,487.80 234.40,487.80 234.80,487.80 235.20,487.80 235.60,487.80 236.00,487.80 236.40,487.80 236.80,487.80 237.20,487.80 237.60,487.80 238.00,487.80 238.40,487.80 238.80,487.80 239.20,487.80 239.60,487.80 240.00,487.80 240.40,487.80 240.80,487.80 241.20,487.80 241.60,487.80 242.00,487.80 242.40,487.80 242.80,487.80 243.20,487.80 243.60,487.80 244.00,487.80 244.40,487.80 244.80,487.80 245.20,487.80 245.60,487.80 246.00,487.80 246.40,487.80 246.80,487.80 247.20,487.80 247.76,488.94 248.38,498.93 248.51,504.36 249.40,503.82 249.67,515.27 249.89,513.82 250.44,523.45 250.57,527.09 251.33,530.16 251.72,532.91 251.78,537.17 252.47,532.65 252.70,533.71 253.18,537.41 253.55,541.26 254.00,540.88 254.33,539.46 254.76,543.10 255.11,538.47 255.57,539.96 256.00,544.86 256.33,545.61 256.78,545.97 257.14,543.29 257.54,543.61 257.94,542.48 258.36,542.33 258.75,542.06 259.14,543.17 259.55,546.88 259.95,543.32 260.35,546.30 260.75,547.27 261.15,545.53 261.55,545.30 261.94,545.43 262.36,543.80 262.76,546.99 263.15,546.85 263.57,544.65 263.95,544.71 264.34,545.08 264.75,545.99 265.15,547.67 265.56,546.24 265.96,548.04 266.35,546.12 266.75,548.69 267.16,546.83 267.55,547.37 267.95,548.62 268.34,547.14 268.75,547.60 269.15,547.75 269.55,547.18 269.95,548.47 270.36,548.28 270.74,547.97 271.15,547.72 271.55,548.34 271.94,548.09 272.36,548.77 272.76,548.83 273.15,549.26 273.54,549.54 273.96,549.52 274.35,549.60 274.75,549.45 275.15,549.55 275.55,549.73 275.95,549.81 276.35,549.88 276.75,549.83 277.15,549.90 277.55,549.93 277.95,549.97" fill="none" stroke="#888" stroke-width="0.8" stroke-linejoin="round" />
<polyline points="213.22,550.00 213.59,549.68 214.02,549.55 214.38,548.43 214.84,548.47 215.16,547.51 215.56,547.35 216.00,547.13 216.37,546.80 216.82,545.18 217.20,546.00 217.64,545.74 218.12,546.41 218.32,543.83 218.61,537.36 218.99,539.25 219.79,536.63 219.93,531.09 220.67,528.77 221.00,525.00 221.34,513.67 221.54,514.33 222.14,507.37 222.54,499.87 222.76,496.20 223.33,493.80 223.50,491.40 224.00,487.80 224.40,487.80 224.80,487.80 225.20,487.80 225.60,487.80 226.00,487.80 226.40,487.80 226.80,487.80 227.20,487.80 227.60,487.80 228.00,487.80 228.40,487.80 228.80,487.80 229.20,487.80 229.60,487.80 230.00,487.80 230.40,487.80 230.80,487.80 231.20,487.80 231.60,487.80 232.00,487.80 232.40,487.80 232.80,487.80 233.20,487.80 233.60,487.80 234.00,487.80 234.40,487.80 234.80,487.80 235.20,487.80 235.60,487.80 236.00,487.80 236.40,487.80 236.80,487.80 237.20,487.80 237.60,487.80 238.00,487.80 238.40,487.80 238.80,487.80 239.20,487.80 239.60,487.80 240.00,487.80 240.40,487.80 240.80,487.80 241.20,487.80 241.60,487.80 242.00,487.80 242.40,487.80 242.80,487.80 243.20,487.80 243.60,487.80 244.00,487.80 244.40,487.80 244.80,487.80 245.20,487.80 245.60,487.80 246.00,487.80 246.40,487.80 246.80,487.80 247.20,487.80 247.82,493.51 247.78,498.93 248.24,503.11 249.08,507.07 249.09,514.76 249.56,515.31 249.91,523.45 250.24,521.23 251.04,526.26 251.35,528.48 251.73,531.49 252.07,534.93 252.33,537.52 252.85,535.13 253.20,540.10 253.63,539.28 253.94,541.12 254.38,542.42 254.80,544.04 255.16,544.35 255.61,544.31 256.03,545.48 256.41,544.18 256.79,545.40 257.21,544.39 257.60,544.76 258.01,546.13 258.39,543.43 258.79,545.20 259.20,546.89 259.61,545.05 259.99,546.58 260.39,544.90 260.79,545.04 261.20,546.82 261.61,544.96 262.00,546.75 262.40,545.60 262.79,544.64 263.19,547.21 263.61,546.86 263.99,546.66 264.41,547.63 264.82,545.59 265.19,547.33 265.58,546.37 266.01,548.08 266.39,547.13 266.80,546.64 267.19,547.21 267.61,547.31 268.00,546.97 268.39,547.90 268.79,547.15 269.21,547.44 269.60,548.71 270.00,548.82 270.41,547.96 270.81,548.60 271.20,548.43 271.61,548.97 271.99,548.55 272.40,548.60 272.80,549.46 273.21,549.07 273.59,549.50 274.00,549.72 274.40,549.61 274.80,549.55 275.20,549.67 275.60,549.78 276.00,549.87 276.40,549.83 276.80,549.87 277.20,549.93 277.60,549.97" fill="none" stroke="#111" stroke-width="0.9" stroke-linejoin="round" />
<line x1="347.50" y1="386.50" x2="516.70" y2="386.50" stroke="#666" stroke-width="1.1" />
<line x1="516.50" y1="386.20" x2="516.50" y2="670.40" stroke="#666" stroke-width="1.1" />
<line x1="347.50" y1="386.20" x2="347.50" y2="673.40" stroke="#555" stroke-width="1.2" />
<line x1="347.50" y1="670.50" x2="516.70" y2="670.50" stroke="#555" stroke-width="1.2" />
<line x1="344.50" y1="670.50" x2="347.50" y2="670.50" stroke="#555" stroke-width="1" />
<text x="340.40" y="673.80" font-size="10.2" style="font-family:'Liberation Serif',serif;font-weight:bold;stroke:#000;stroke-width:0.25px" text-anchor="end" fill="#000" >0</text>
<line x1="344.50" y1="599.50" x2="347.50" y2="599.50" stroke="#555" stroke-width="1" />
<text x="340.40" y="602.75" font-size="10.2" style="font-family:'Liberation Serif',serif;font-weight:bold;stroke:#000;stroke-width:0.25px" text-anchor="end" fill="#000" >2</text>
<line x1="344.50" y1="528.50" x2="347.50" y2="528.50" stroke="#555" stroke-width="1" />
<text x="340.40" y="531.70" font-size="10.2" style="font-family:'Liberation Serif',serif;font-weight:bold;stroke:#000;stroke-width:0.25px" text-anchor="end" fill="#000" >4</text>
<line x1="344.50" y1="457.50" x2="347.50" y2="457.50" stroke="#555" stroke-width="1" />
<text x="340.40" y="460.65" font-size="10.2" style="font-family:'Liberation Serif',serif;font-weight:bold;stroke:#000;stroke-width:0.25px" text-anchor="end" fill="#000" >6</text>
<line x1="344.50" y1="386.50" x2="347.50" y2="386.50" stroke="#555" stroke-width="1" />
<text x="340.40" y="389.60" font-size="10.2" style="font-family:'Liberation Serif',serif;font-weight:bold;stroke:#000;stroke-width:0.25px" text-anchor="end" fill="#000" >8</text>
<text x="340.20" y="638.27" font-size="10.2" style="font-family:'Liberation Serif',serif;font-weight:bold;stroke:#000;stroke-width:0.25px" text-anchor="end" fill="#000" >1</text>
<line x1="432.50" y1="670.40" x2="432.50" y2="673.40" stroke="#555" stroke-width="1" />
<line x1="516.50" y1="670.40" x2="516.50" y2="673.40" stroke="#555" stroke-width="1" />
<rect x="365.80" y="634.88" width="24.80" height="35.52" fill="#fff" stroke="#444" stroke-width="1"/>
<rect x="450.50" y="634.88" width="24.10" height="35.52" fill="#fff" stroke="#444" stroke-width="1"/>
<rect x="390.60" y="587.10" width="23.90" height="83.30" fill="#6e6e6e" stroke="#333" stroke-width="1"/>
<rect x="474.60" y="501.30" width="24.60" height="169.10" fill="#6e6e6e" stroke="#333" stroke-width="1"/>
<line x1="402.50" y1="587.10" x2="402.50" y2="562.10" stroke="#222" stroke-width="1.1" />
<line x1="399.70" y1="562.50" x2="405.50" y2="562.50" stroke="#222" stroke-width="1.1" />
<line x1="486.50" y1="501.30" x2="486.50" y2="419.00" stroke="#222" stroke-width="1.1" />
<line x1="483.50" y1="419.50" x2="489.30" y2="419.50" stroke="#222" stroke-width="1.1" />
<text x="402.40" y="562.60" font-size="11.5" style="font-family:'Liberation Serif',serif;font-weight:bold;stroke:#000;stroke-width:0.25px" text-anchor="middle" fill="#222" >*</text>
<text x="486.40" y="419.60" font-size="11.5" style="font-family:'Liberation Serif',serif;font-weight:bold;stroke:#000;stroke-width:0.25px" text-anchor="middle" fill="#222" >*</text>
<line x1="350.80" y1="635.10" x2="516.70" y2="635.10" stroke="#000" stroke-width="2" stroke-dasharray="5.7,5"/>
<rect x="378.00" y="412.60" width="7.80" height="7.40" fill="#fff" stroke="#333" stroke-width="1"/>
<rect x="378.00" y="431.50" width="7.80" height="7.70" fill="#6e6e6e" stroke="#333" stroke-width="1"/>
<text x="389.2" y="417.7" font-size="10.2" style="font-family:'Liberation Serif',serif;font-weight:bold;stroke:#000;stroke-width:0.25px">FoxP3<tspan font-size="6.5" dy="-3.6">-</tspan></text>
<text x="389.2" y="436.9" font-size="10.2" style="font-family:'Liberation Serif',serif;font-weight:bold;stroke:#000;stroke-width:0.25px">FoxP3<tspan font-size="6.5" dy="-3.6">+</tspan></text>
<text x="383.90" y="689.70" font-size="10.2" style="font-family:'Liberation Serif',serif;font-weight:bold;stroke:#000;stroke-width:0.25px" text-anchor="start" fill="#000" >Spl</text>
<text x="464.60" y="690.00" font-size="10.2" style="font-family:'Liberation Serif',serif;font-weight:bold;stroke:#000;stroke-width:0.25px" text-anchor="start" fill="#000" >mLN</text>
<text transform="translate(329.4,528) rotate(-90)" font-size="10.45" style="font-family:'Liberation Serif',serif;font-weight:bold;stroke:#000;stroke-width:0.25px" text-anchor="middle">Relative P24 expression (FoxP3<tspan font-size="6" dy="-3">+</tspan><tspan dy="3">/Foxp3</tspan><tspan font-size="6" dy="-3">-</tspan><tspan dy="3">)</tspan></text>
</svg>
</body></html>
